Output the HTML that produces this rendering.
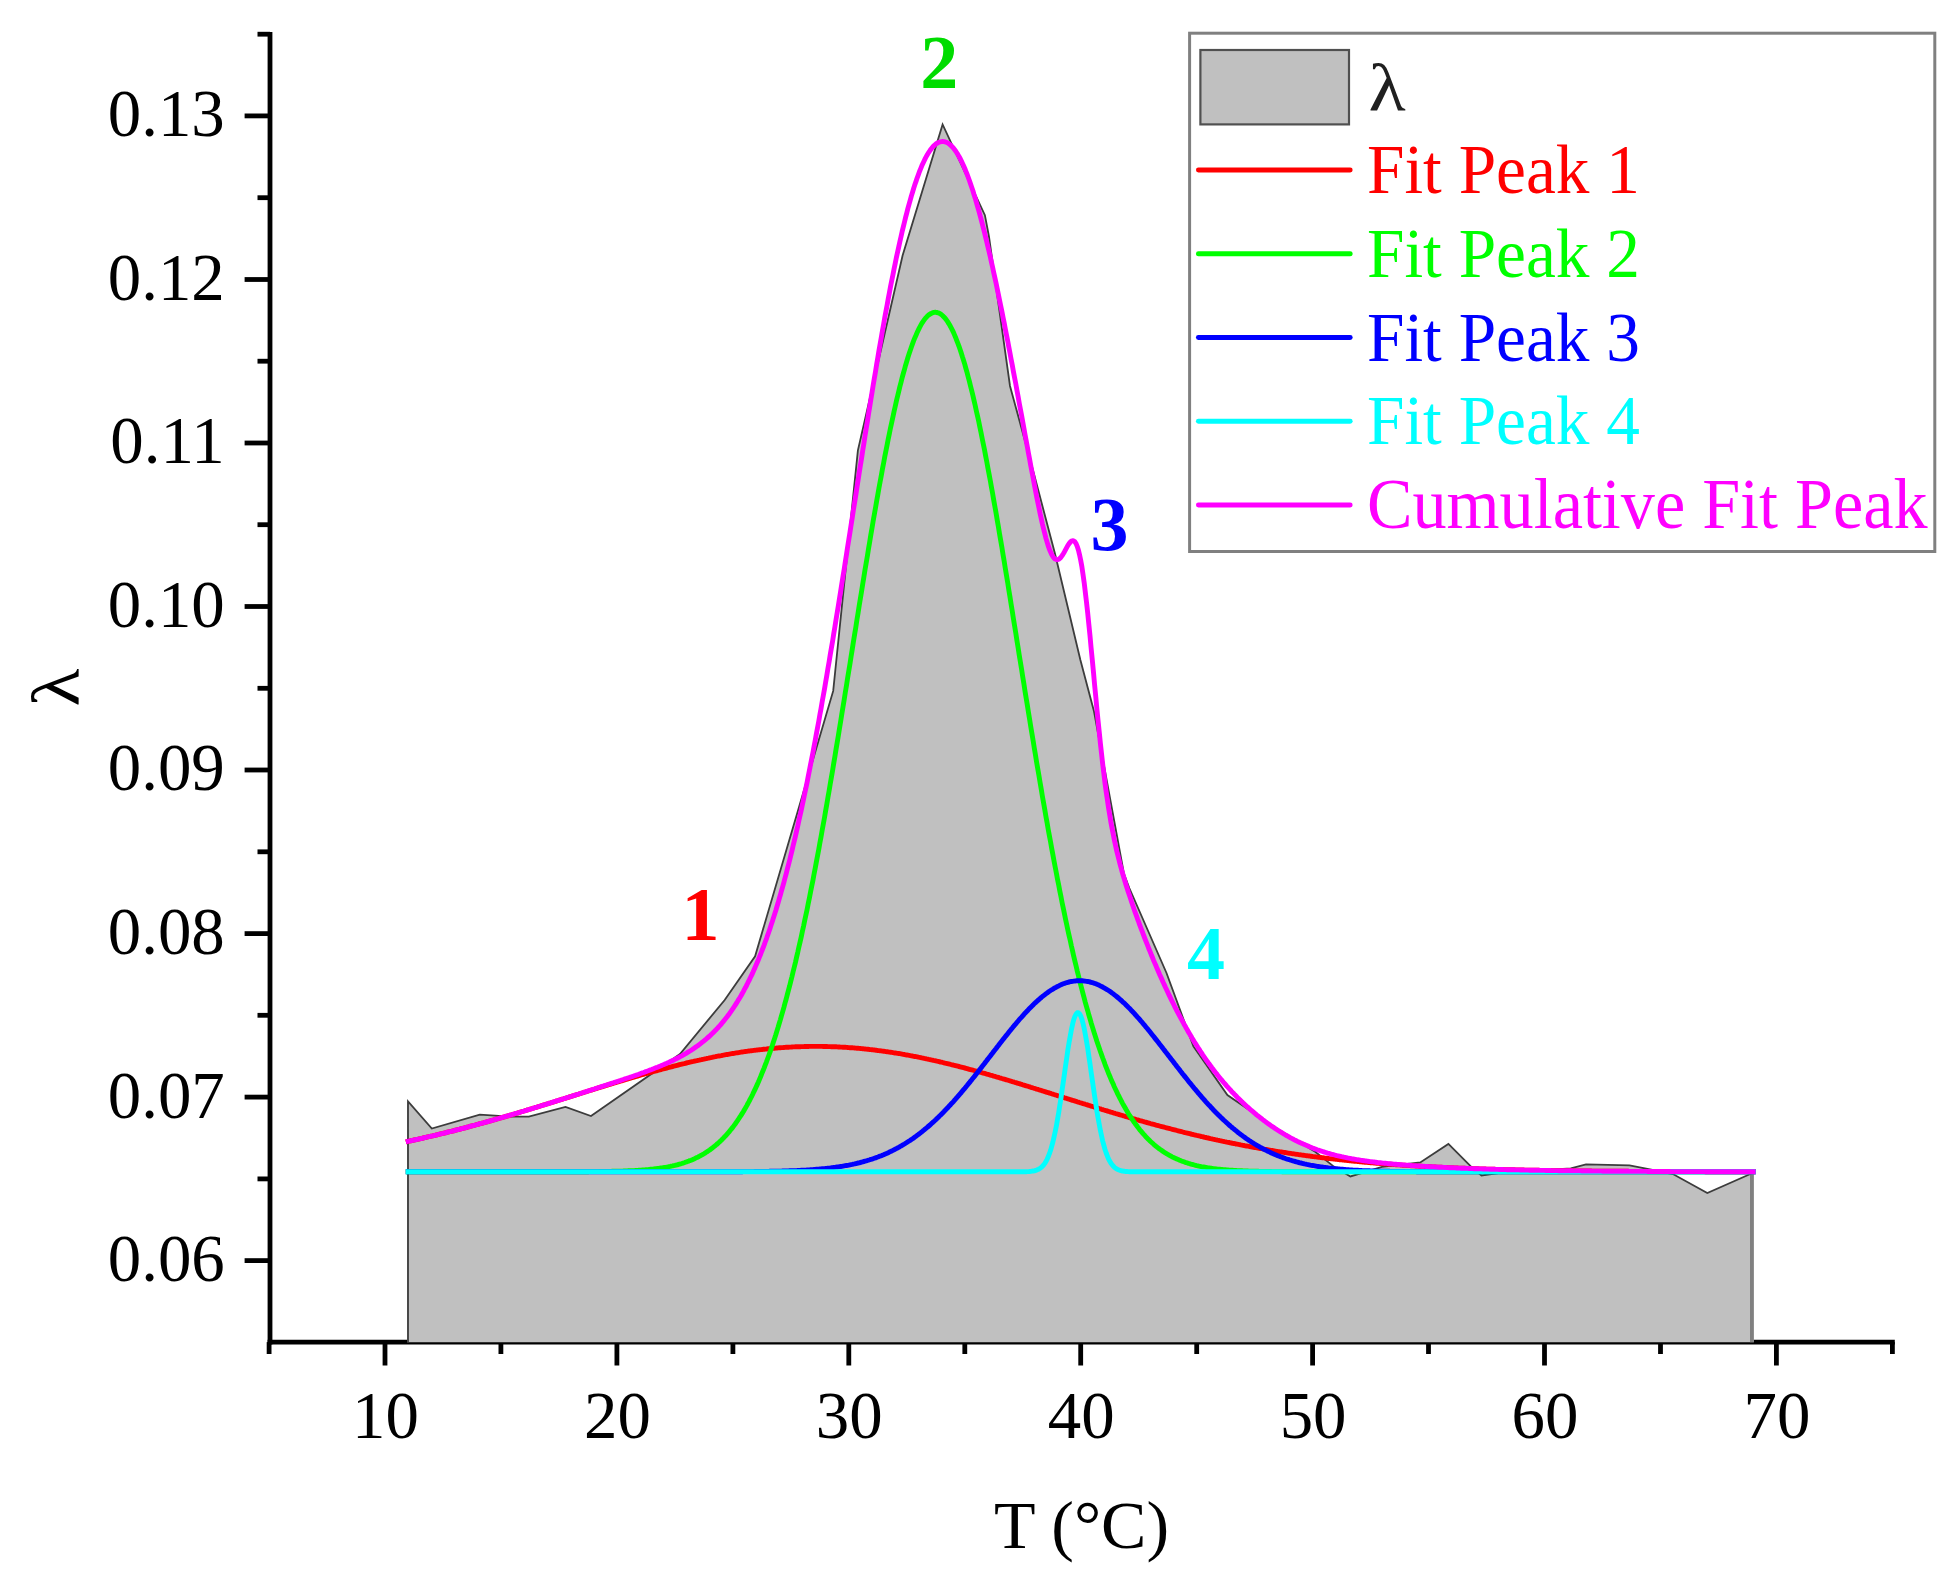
<!DOCTYPE html><html><head><meta charset="utf-8"><title>Fit Peaks</title>
<style>html,body{margin:0;padding:0;background:#fff}svg{display:block}text{font-family:"Liberation Serif","DejaVu Serif",serif}</style></head><body>
<svg width="1960" height="1580" viewBox="0 0 1960 1580">
<rect width="1960" height="1580" fill="#fff"/>
<g stroke="#000" stroke-width="4.8" fill="none"><line x1="270.0" y1="32.0" x2="270.0" y2="1344.5"/><line x1="267.6" y1="1342.1" x2="1894.8" y2="1342.1"/><line x1="244.6" y1="1260.6" x2="270.0" y2="1260.6"/><line x1="257.5" y1="1178.9" x2="270.0" y2="1178.9"/><line x1="244.6" y1="1097.1" x2="270.0" y2="1097.1"/><line x1="257.5" y1="1015.3" x2="270.0" y2="1015.3"/><line x1="244.6" y1="933.6" x2="270.0" y2="933.6"/><line x1="257.5" y1="851.8" x2="270.0" y2="851.8"/><line x1="244.6" y1="770.0" x2="270.0" y2="770.0"/><line x1="257.5" y1="688.3" x2="270.0" y2="688.3"/><line x1="244.6" y1="606.5" x2="270.0" y2="606.5"/><line x1="257.5" y1="524.7" x2="270.0" y2="524.7"/><line x1="244.6" y1="443.0" x2="270.0" y2="443.0"/><line x1="257.5" y1="361.2" x2="270.0" y2="361.2"/><line x1="244.6" y1="279.5" x2="270.0" y2="279.5"/><line x1="257.5" y1="197.7" x2="270.0" y2="197.7"/><line x1="244.6" y1="115.9" x2="270.0" y2="115.9"/><line x1="257.5" y1="34.2" x2="270.0" y2="34.2"/><line x1="269.1" y1="1342.1" x2="269.1" y2="1354.0"/><line x1="385.0" y1="1342.1" x2="385.0" y2="1365.5"/><line x1="500.9" y1="1342.1" x2="500.9" y2="1354.0"/><line x1="616.9" y1="1342.1" x2="616.9" y2="1365.5"/><line x1="732.9" y1="1342.1" x2="732.9" y2="1354.0"/><line x1="848.8" y1="1342.1" x2="848.8" y2="1365.5"/><line x1="964.8" y1="1342.1" x2="964.8" y2="1354.0"/><line x1="1080.7" y1="1342.1" x2="1080.7" y2="1365.5"/><line x1="1196.7" y1="1342.1" x2="1196.7" y2="1354.0"/><line x1="1312.6" y1="1342.1" x2="1312.6" y2="1365.5"/><line x1="1428.5" y1="1342.1" x2="1428.5" y2="1354.0"/><line x1="1544.5" y1="1342.1" x2="1544.5" y2="1365.5"/><line x1="1660.5" y1="1342.1" x2="1660.5" y2="1354.0"/><line x1="1776.4" y1="1342.1" x2="1776.4" y2="1365.5"/><line x1="1892.4" y1="1342.1" x2="1892.4" y2="1354.0"/></g>
<path d="M407.0,1342.2 L407.0,1101.4 L431.8,1128.6 L479.8,1114.7 L495.0,1115.7 L512.4,1116.7 L528.8,1116.7 L565.5,1107.0 L591.0,1116.0 L680.0,1054.0 L724.7,1000.0 L755.1,956.3 L833.2,690.9 L857.9,450.3 L902.6,255.5 L942.6,124.4 L984.9,215.2 L989.0,236.6 L1010.0,386.0 L1034.0,474.0 L1055.0,553.7 L1080.4,660.0 L1093.9,710.9 L1124.0,873.8 L1129.3,888.0 L1166.5,973.0 L1193.4,1046.3 L1227.4,1095.0 L1270.0,1124.2 L1315.5,1152.0 L1333.9,1166.6 L1350.4,1176.4 L1382.0,1166.8 L1420.3,1162.5 L1448.4,1143.9 L1471.3,1166.8 L1481.5,1175.5 L1502.0,1172.7 L1570.8,1168.4 L1586.0,1164.3 L1629.5,1165.3 L1650.0,1169.4 L1672.9,1174.0 L1707.3,1193.1 L1753.8,1172.7 L1753.8,1342.2 Z" fill="#c0c0c0" stroke="none"/>
<line x1="1751.9" y1="1173" x2="1751.9" y2="1342.2" stroke="#808080" stroke-width="3.8"/>
<path d="M408.0,1342.2 L408.0,1101.4 L431.8,1128.6 L479.8,1114.7 L495.0,1115.7 L512.4,1116.7 L528.8,1116.7 L565.5,1107.0 L591.0,1116.0 L680.0,1054.0 L724.7,1000.0 L755.1,956.3 L833.2,690.9 L857.9,450.3 L902.6,255.5 L942.6,124.4 L984.9,215.2 L989.0,236.6 L1010.0,386.0 L1034.0,474.0 L1055.0,553.7 L1080.4,660.0 L1093.9,710.9 L1124.0,873.8 L1129.3,888.0 L1166.5,973.0 L1193.4,1046.3 L1227.4,1095.0 L1270.0,1124.2 L1315.5,1152.0 L1333.9,1166.6 L1350.4,1176.4 L1382.0,1166.8 L1420.3,1162.5 L1448.4,1143.9 L1471.3,1166.8 L1481.5,1175.5 L1502.0,1172.7 L1570.8,1168.4 L1586.0,1164.3 L1629.5,1165.3 L1650.0,1169.4 L1672.9,1174.0 L1707.3,1193.1 L1753.2,1172.7" fill="none" stroke="#3c3c3c" stroke-width="1.8" stroke-linejoin="miter"/>
<g fill="none" stroke-width="4.9" stroke-linejoin="round" stroke-linecap="square">
<path d="M408.2,1141.3 L409.3,1141.0 L410.5,1140.8 L411.7,1140.5 L412.8,1140.3 L414.0,1140.0 L415.1,1139.8 L416.3,1139.5 L417.5,1139.3 L418.6,1139.0 L419.8,1138.8 L420.9,1138.5 L422.1,1138.3 L423.3,1138.0 L424.4,1137.7 L425.6,1137.5 L426.7,1137.2 L427.9,1136.9 L429.1,1136.7 L430.2,1136.4 L431.4,1136.1 L432.5,1135.9 L433.7,1135.6 L434.9,1135.3 L436.0,1135.0 L437.2,1134.8 L438.3,1134.5 L439.5,1134.2 L440.7,1133.9 L441.8,1133.6 L443.0,1133.4 L444.1,1133.1 L445.3,1132.8 L446.5,1132.5 L447.6,1132.2 L448.8,1131.9 L449.9,1131.6 L451.1,1131.4 L452.3,1131.1 L453.4,1130.8 L454.6,1130.5 L455.7,1130.2 L456.9,1129.9 L458.0,1129.6 L459.2,1129.3 L460.4,1129.0 L461.5,1128.7 L462.7,1128.4 L463.8,1128.1 L465.0,1127.8 L466.2,1127.5 L467.3,1127.2 L468.5,1126.9 L469.6,1126.5 L470.8,1126.2 L472.0,1125.9 L473.1,1125.6 L474.3,1125.3 L475.4,1125.0 L476.6,1124.7 L477.8,1124.4 L478.9,1124.0 L480.1,1123.7 L481.2,1123.4 L482.4,1123.1 L483.6,1122.8 L484.7,1122.4 L485.9,1122.1 L487.0,1121.8 L488.2,1121.5 L489.4,1121.1 L490.5,1120.8 L491.7,1120.5 L492.8,1120.2 L494.0,1119.8 L495.2,1119.5 L496.3,1119.2 L497.5,1118.8 L498.6,1118.5 L499.8,1118.2 L500.9,1117.8 L502.1,1117.5 L503.3,1117.2 L504.4,1116.8 L505.6,1116.5 L506.7,1116.1 L507.9,1115.8 L509.1,1115.5 L510.2,1115.1 L511.4,1114.8 L512.5,1114.4 L513.7,1114.1 L514.9,1113.8 L516.0,1113.4 L517.2,1113.1 L518.3,1112.7 L519.5,1112.4 L520.7,1112.0 L521.8,1111.7 L523.0,1111.3 L524.1,1111.0 L525.3,1110.6 L526.5,1110.3 L527.6,1109.9 L528.8,1109.6 L529.9,1109.2 L531.1,1108.9 L532.3,1108.5 L533.4,1108.2 L534.6,1107.8 L535.7,1107.4 L536.9,1107.1 L538.1,1106.7 L539.2,1106.4 L540.4,1106.0 L541.5,1105.7 L542.7,1105.3 L543.9,1104.9 L545.0,1104.6 L546.2,1104.2 L547.3,1103.9 L548.5,1103.5 L549.6,1103.1 L550.8,1102.8 L552.0,1102.4 L553.1,1102.1 L554.3,1101.7 L555.4,1101.3 L556.6,1101.0 L557.8,1100.6 L558.9,1100.2 L560.1,1099.9 L561.2,1099.5 L562.4,1099.2 L563.6,1098.8 L564.7,1098.4 L565.9,1098.1 L567.0,1097.7 L568.2,1097.3 L569.4,1097.0 L570.5,1096.6 L571.7,1096.3 L572.8,1095.9 L574.0,1095.5 L575.2,1095.2 L576.3,1094.8 L577.5,1094.4 L578.6,1094.1 L579.8,1093.7 L581.0,1093.3 L582.1,1093.0 L583.3,1092.6 L584.4,1092.2 L585.6,1091.9 L586.8,1091.5 L587.9,1091.2 L589.1,1090.8 L590.2,1090.4 L591.4,1090.1 L592.6,1089.7 L593.7,1089.4 L594.9,1089.0 L596.0,1088.6 L597.2,1088.3 L598.3,1087.9 L599.5,1087.5 L600.7,1087.2 L601.8,1086.8 L603.0,1086.5 L604.1,1086.1 L605.3,1085.8 L606.5,1085.4 L607.6,1085.0 L608.8,1084.7 L609.9,1084.3 L611.1,1084.0 L612.3,1083.6 L613.4,1083.3 L614.6,1082.9 L615.7,1082.6 L616.9,1082.2 L618.1,1081.9 L619.2,1081.5 L620.4,1081.2 L621.5,1080.8 L622.7,1080.5 L623.9,1080.1 L625.0,1079.8 L626.2,1079.4 L627.3,1079.1 L628.5,1078.7 L629.7,1078.4 L630.8,1078.0 L632.0,1077.7 L633.1,1077.4 L634.3,1077.0 L635.5,1076.7 L636.6,1076.3 L637.8,1076.0 L638.9,1075.7 L640.1,1075.3 L641.2,1075.0 L642.4,1074.7 L643.6,1074.3 L644.7,1074.0 L645.9,1073.7 L647.0,1073.4 L648.2,1073.0 L649.4,1072.7 L650.5,1072.4 L651.7,1072.1 L652.8,1071.7 L654.0,1071.4 L655.2,1071.1 L656.3,1070.8 L657.5,1070.5 L658.6,1070.1 L659.8,1069.8 L661.0,1069.5 L662.1,1069.2 L663.3,1068.9 L664.4,1068.6 L665.6,1068.3 L666.8,1068.0 L667.9,1067.7 L669.1,1067.4 L670.2,1067.1 L671.4,1066.8 L672.6,1066.5 L673.7,1066.2 L674.9,1065.9 L676.0,1065.6 L677.2,1065.3 L678.4,1065.0 L679.5,1064.7 L680.7,1064.4 L681.8,1064.1 L683.0,1063.8 L684.2,1063.6 L685.3,1063.3 L686.5,1063.0 L687.6,1062.7 L688.8,1062.5 L689.9,1062.2 L691.1,1061.9 L692.3,1061.6 L693.4,1061.4 L694.6,1061.1 L695.7,1060.8 L696.9,1060.6 L698.1,1060.3 L699.2,1060.1 L700.4,1059.8 L701.5,1059.6 L702.7,1059.3 L703.9,1059.1 L705.0,1058.8 L706.2,1058.6 L707.3,1058.3 L708.5,1058.1 L709.7,1057.8 L710.8,1057.6 L712.0,1057.4 L713.1,1057.1 L714.3,1056.9 L715.5,1056.7 L716.6,1056.4 L717.8,1056.2 L718.9,1056.0 L720.1,1055.8 L721.3,1055.6 L722.4,1055.3 L723.6,1055.1 L724.7,1054.9 L725.9,1054.7 L727.1,1054.5 L728.2,1054.3 L729.4,1054.1 L730.5,1053.9 L731.7,1053.7 L732.9,1053.5 L734.0,1053.3 L735.2,1053.1 L736.3,1052.9 L737.5,1052.8 L738.6,1052.6 L739.8,1052.4 L741.0,1052.2 L742.1,1052.0 L743.3,1051.9 L744.4,1051.7 L745.6,1051.5 L746.8,1051.4 L747.9,1051.2 L749.1,1051.0 L750.2,1050.9 L751.4,1050.7 L752.6,1050.6 L753.7,1050.4 L754.9,1050.3 L756.0,1050.1 L757.2,1050.0 L758.4,1049.9 L759.5,1049.7 L760.7,1049.6 L761.8,1049.5 L763.0,1049.3 L764.2,1049.2 L765.3,1049.1 L766.5,1049.0 L767.6,1048.8 L768.8,1048.7 L770.0,1048.6 L771.1,1048.5 L772.3,1048.4 L773.4,1048.3 L774.6,1048.2 L775.8,1048.1 L776.9,1048.0 L778.1,1047.9 L779.2,1047.8 L780.4,1047.7 L781.5,1047.6 L782.7,1047.6 L783.9,1047.5 L785.0,1047.4 L786.2,1047.3 L787.3,1047.3 L788.5,1047.2 L789.7,1047.1 L790.8,1047.1 L792.0,1047.0 L793.1,1046.9 L794.3,1046.9 L795.5,1046.8 L796.6,1046.8 L797.8,1046.7 L798.9,1046.7 L800.1,1046.7 L801.3,1046.6 L802.4,1046.6 L803.6,1046.6 L804.7,1046.5 L805.9,1046.5 L807.1,1046.5 L808.2,1046.5 L809.4,1046.4 L810.5,1046.4 L811.7,1046.4 L812.9,1046.4 L814.0,1046.4 L815.2,1046.4 L816.3,1046.4 L817.5,1046.4 L818.7,1046.4 L819.8,1046.4 L821.0,1046.4 L822.1,1046.4 L823.3,1046.5 L824.5,1046.5 L825.6,1046.5 L826.8,1046.5 L827.9,1046.6 L829.1,1046.6 L830.2,1046.6 L831.4,1046.7 L832.6,1046.7 L833.7,1046.7 L834.9,1046.8 L836.0,1046.8 L837.2,1046.9 L838.4,1047.0 L839.5,1047.0 L840.7,1047.1 L841.8,1047.1 L843.0,1047.2 L844.2,1047.3 L845.3,1047.3 L846.5,1047.4 L847.6,1047.5 L848.8,1047.6 L850.0,1047.7 L851.1,1047.7 L852.3,1047.8 L853.4,1047.9 L854.6,1048.0 L855.8,1048.1 L856.9,1048.2 L858.1,1048.3 L859.2,1048.4 L860.4,1048.5 L861.6,1048.6 L862.7,1048.7 L863.9,1048.9 L865.0,1049.0 L866.2,1049.1 L867.4,1049.2 L868.5,1049.3 L869.7,1049.5 L870.8,1049.6 L872.0,1049.7 L873.1,1049.9 L874.3,1050.0 L875.5,1050.2 L876.6,1050.3 L877.8,1050.5 L878.9,1050.6 L880.1,1050.8 L881.3,1050.9 L882.4,1051.1 L883.6,1051.2 L884.7,1051.4 L885.9,1051.6 L887.1,1051.7 L888.2,1051.9 L889.4,1052.1 L890.5,1052.2 L891.7,1052.4 L892.9,1052.6 L894.0,1052.8 L895.2,1053.0 L896.3,1053.2 L897.5,1053.4 L898.7,1053.5 L899.8,1053.7 L901.0,1053.9 L902.1,1054.1 L903.3,1054.3 L904.5,1054.5 L905.6,1054.8 L906.8,1055.0 L907.9,1055.2 L909.1,1055.4 L910.3,1055.6 L911.4,1055.8 L912.6,1056.0 L913.7,1056.3 L914.9,1056.5 L916.1,1056.7 L917.2,1056.9 L918.4,1057.2 L919.5,1057.4 L920.7,1057.6 L921.8,1057.9 L923.0,1058.1 L924.2,1058.4 L925.3,1058.6 L926.5,1058.9 L927.6,1059.1 L928.8,1059.4 L930.0,1059.6 L931.1,1059.9 L932.3,1060.1 L933.4,1060.4 L934.6,1060.6 L935.8,1060.9 L936.9,1061.2 L938.1,1061.4 L939.2,1061.7 L940.4,1062.0 L941.6,1062.2 L942.7,1062.5 L943.9,1062.8 L945.0,1063.1 L946.2,1063.3 L947.4,1063.6 L948.5,1063.9 L949.7,1064.2 L950.8,1064.5 L952.0,1064.8 L953.2,1065.0 L954.3,1065.3 L955.5,1065.6 L956.6,1065.9 L957.8,1066.2 L959.0,1066.5 L960.1,1066.8 L961.3,1067.1 L962.4,1067.4 L963.6,1067.7 L964.8,1068.0 L965.9,1068.3 L967.1,1068.6 L968.2,1069.0 L969.4,1069.3 L970.5,1069.6 L971.7,1069.9 L972.9,1070.2 L974.0,1070.5 L975.2,1070.8 L976.3,1071.2 L977.5,1071.5 L978.7,1071.8 L979.8,1072.1 L981.0,1072.4 L982.1,1072.8 L983.3,1073.1 L984.5,1073.4 L985.6,1073.7 L986.8,1074.1 L987.9,1074.4 L989.1,1074.7 L990.3,1075.1 L991.4,1075.4 L992.6,1075.7 L993.7,1076.1 L994.9,1076.4 L996.1,1076.8 L997.2,1077.1 L998.4,1077.4 L999.5,1077.8 L1000.7,1078.1 L1001.9,1078.5 L1003.0,1078.8 L1004.2,1079.1 L1005.3,1079.5 L1006.5,1079.8 L1007.7,1080.2 L1008.8,1080.5 L1010.0,1080.9 L1011.1,1081.2 L1012.3,1081.6 L1013.4,1081.9 L1014.6,1082.3 L1015.8,1082.6 L1016.9,1083.0 L1018.1,1083.3 L1019.2,1083.7 L1020.4,1084.0 L1021.6,1084.4 L1022.7,1084.8 L1023.9,1085.1 L1025.0,1085.5 L1026.2,1085.8 L1027.4,1086.2 L1028.5,1086.5 L1029.7,1086.9 L1030.8,1087.3 L1032.0,1087.6 L1033.2,1088.0 L1034.3,1088.3 L1035.5,1088.7 L1036.6,1089.1 L1037.8,1089.4 L1039.0,1089.8 L1040.1,1090.1 L1041.3,1090.5 L1042.4,1090.9 L1043.6,1091.2 L1044.8,1091.6 L1045.9,1092.0 L1047.1,1092.3 L1048.2,1092.7 L1049.4,1093.0 L1050.6,1093.4 L1051.7,1093.8 L1052.9,1094.1 L1054.0,1094.5 L1055.2,1094.9 L1056.4,1095.2 L1057.5,1095.6 L1058.7,1096.0 L1059.8,1096.3 L1061.0,1096.7 L1062.1,1097.1 L1063.3,1097.4 L1064.5,1097.8 L1065.6,1098.1 L1066.8,1098.5 L1067.9,1098.9 L1069.1,1099.2 L1070.3,1099.6 L1071.4,1100.0 L1072.6,1100.3 L1073.7,1100.7 L1074.9,1101.0 L1076.1,1101.4 L1077.2,1101.8 L1078.4,1102.1 L1079.5,1102.5 L1080.7,1102.9 L1081.9,1103.2 L1083.0,1103.6 L1084.2,1103.9 L1085.3,1104.3 L1086.5,1104.7 L1087.7,1105.0 L1088.8,1105.4 L1090.0,1105.7 L1091.1,1106.1 L1092.3,1106.4 L1093.5,1106.8 L1094.6,1107.2 L1095.8,1107.5 L1096.9,1107.9 L1098.1,1108.2 L1099.3,1108.6 L1100.4,1108.9 L1101.6,1109.3 L1102.7,1109.6 L1103.9,1110.0 L1105.0,1110.3 L1106.2,1110.7 L1107.4,1111.0 L1108.5,1111.4 L1109.7,1111.7 L1110.8,1112.1 L1112.0,1112.4 L1113.2,1112.8 L1114.3,1113.1 L1115.5,1113.5 L1116.6,1113.8 L1117.8,1114.2 L1119.0,1114.5 L1120.1,1114.9 L1121.3,1115.2 L1122.4,1115.5 L1123.6,1115.9 L1124.8,1116.2 L1125.9,1116.6 L1127.1,1116.9 L1128.2,1117.2 L1129.4,1117.6 L1130.6,1117.9 L1131.7,1118.2 L1132.9,1118.6 L1134.0,1118.9 L1135.2,1119.2 L1136.4,1119.6 L1137.5,1119.9 L1138.7,1120.2 L1139.8,1120.6 L1141.0,1120.9 L1142.2,1121.2 L1143.3,1121.5 L1144.5,1121.9 L1145.6,1122.2 L1146.8,1122.5 L1148.0,1122.8 L1149.1,1123.1 L1150.3,1123.5 L1151.4,1123.8 L1152.6,1124.1 L1153.7,1124.4 L1154.9,1124.7 L1156.1,1125.1 L1157.2,1125.4 L1158.4,1125.7 L1159.5,1126.0 L1160.7,1126.3 L1161.9,1126.6 L1163.0,1126.9 L1164.2,1127.2 L1165.3,1127.5 L1166.5,1127.8 L1167.7,1128.1 L1168.8,1128.4 L1170.0,1128.7 L1171.1,1129.0 L1172.3,1129.3 L1173.5,1129.6 L1174.6,1129.9 L1175.8,1130.2 L1176.9,1130.5 L1178.1,1130.8 L1179.3,1131.1 L1180.4,1131.4 L1181.6,1131.7 L1182.7,1132.0 L1183.9,1132.3 L1185.1,1132.6 L1186.2,1132.8 L1187.4,1133.1 L1188.5,1133.4 L1189.7,1133.7 L1190.9,1134.0 L1192.0,1134.3 L1193.2,1134.5 L1194.3,1134.8 L1195.5,1135.1 L1196.7,1135.4 L1197.8,1135.6 L1199.0,1135.9 L1200.1,1136.2 L1201.3,1136.5 L1202.4,1136.7 L1203.6,1137.0 L1204.8,1137.3 L1205.9,1137.5 L1207.1,1137.8 L1208.2,1138.0 L1209.4,1138.3 L1210.6,1138.6 L1211.7,1138.8 L1212.9,1139.1 L1214.0,1139.3 L1215.2,1139.6 L1216.4,1139.8 L1217.5,1140.1 L1218.7,1140.3 L1219.8,1140.6 L1221.0,1140.8 L1222.2,1141.1 L1223.3,1141.3 L1224.5,1141.6 L1225.6,1141.8 L1226.8,1142.1 L1228.0,1142.3 L1229.1,1142.5 L1230.3,1142.8 L1231.4,1143.0 L1232.6,1143.3 L1233.8,1143.5 L1234.9,1143.7 L1236.1,1144.0 L1237.2,1144.2 L1238.4,1144.4 L1239.6,1144.6 L1240.7,1144.9 L1241.9,1145.1 L1243.0,1145.3 L1244.2,1145.5 L1245.3,1145.8 L1246.5,1146.0 L1247.7,1146.2 L1248.8,1146.4 L1250.0,1146.6 L1251.1,1146.9 L1252.3,1147.1 L1253.5,1147.3 L1254.6,1147.5 L1255.8,1147.7 L1256.9,1147.9 L1258.1,1148.1 L1259.3,1148.3 L1260.4,1148.5 L1261.6,1148.7 L1262.7,1148.9 L1263.9,1149.1 L1265.1,1149.3 L1266.2,1149.5 L1267.4,1149.7 L1268.5,1149.9 L1269.7,1150.1 L1270.9,1150.3 L1272.0,1150.5 L1273.2,1150.7 L1274.3,1150.9 L1275.5,1151.1 L1276.7,1151.3 L1277.8,1151.5 L1279.0,1151.6 L1280.1,1151.8 L1281.3,1152.0 L1282.5,1152.2 L1283.6,1152.4 L1284.8,1152.5 L1285.9,1152.7 L1287.1,1152.9 L1288.3,1153.1 L1289.4,1153.3 L1290.6,1153.4 L1291.7,1153.6 L1292.9,1153.8 L1294.0,1153.9 L1295.2,1154.1 L1296.4,1154.3 L1297.5,1154.4 L1298.7,1154.6 L1299.8,1154.8 L1301.0,1154.9 L1302.2,1155.1 L1303.3,1155.2 L1304.5,1155.4 L1305.6,1155.6 L1306.8,1155.7 L1308.0,1155.9 L1309.1,1156.0 L1310.3,1156.2 L1311.4,1156.3 L1312.6,1156.5 L1313.8,1156.6 L1314.9,1156.8 L1316.1,1156.9 L1317.2,1157.1 L1318.4,1157.2 L1319.6,1157.4 L1320.7,1157.5 L1321.9,1157.7 L1323.0,1157.8 L1324.2,1157.9 L1325.4,1158.1 L1326.5,1158.2 L1327.7,1158.3 L1328.8,1158.5 L1330.0,1158.6 L1331.2,1158.7 L1332.3,1158.9 L1333.5,1159.0 L1334.6,1159.1 L1335.8,1159.3 L1336.9,1159.4 L1338.1,1159.5 L1339.3,1159.7 L1340.4,1159.8 L1341.6,1159.9 L1342.7,1160.0 L1343.9,1160.1 L1345.1,1160.3 L1346.2,1160.4 L1347.4,1160.5 L1348.5,1160.6 L1349.7,1160.7 L1350.9,1160.9 L1352.0,1161.0 L1353.2,1161.1 L1354.3,1161.2 L1355.5,1161.3 L1356.7,1161.4 L1357.8,1161.5 L1359.0,1161.6 L1360.1,1161.8 L1361.3,1161.9 L1362.5,1162.0 L1363.6,1162.1 L1364.8,1162.2 L1365.9,1162.3 L1367.1,1162.4 L1368.3,1162.5 L1369.4,1162.6 L1370.6,1162.7 L1371.7,1162.8 L1372.9,1162.9 L1374.1,1163.0 L1375.2,1163.1 L1376.4,1163.2 L1377.5,1163.3 L1378.7,1163.4 L1379.9,1163.5 L1381.0,1163.6 L1382.2,1163.6 L1383.3,1163.7 L1384.5,1163.8 L1385.6,1163.9 L1386.8,1164.0 L1388.0,1164.1 L1389.1,1164.2 L1390.3,1164.3 L1391.4,1164.3 L1392.6,1164.4 L1393.8,1164.5 L1394.9,1164.6 L1396.1,1164.7 L1397.2,1164.8 L1398.4,1164.8 L1399.6,1164.9 L1400.7,1165.0 L1401.9,1165.1 L1403.0,1165.2 L1404.2,1165.2 L1405.4,1165.3 L1406.5,1165.4 L1407.7,1165.5 L1408.8,1165.5 L1410.0,1165.6 L1411.2,1165.7 L1412.3,1165.7 L1413.5,1165.8 L1414.6,1165.9 L1415.8,1166.0 L1417.0,1166.0 L1418.1,1166.1 L1419.3,1166.2 L1420.4,1166.2 L1421.6,1166.3 L1422.8,1166.4 L1423.9,1166.4 L1425.1,1166.5 L1426.2,1166.6 L1427.4,1166.6 L1428.5,1166.7 L1429.7,1166.7 L1430.9,1166.8 L1432.0,1166.9 L1433.2,1166.9 L1434.3,1167.0 L1435.5,1167.0 L1436.7,1167.1 L1437.8,1167.2 L1439.0,1167.2 L1440.1,1167.3 L1441.3,1167.3 L1442.5,1167.4 L1443.6,1167.4 L1444.8,1167.5 L1445.9,1167.5 L1447.1,1167.6 L1448.3,1167.6 L1449.4,1167.7 L1450.6,1167.7 L1451.7,1167.8 L1452.9,1167.8 L1454.1,1167.9 L1455.2,1167.9 L1456.4,1168.0 L1457.5,1168.0 L1458.7,1168.1 L1459.9,1168.1 L1461.0,1168.2 L1462.2,1168.2 L1463.3,1168.3 L1464.5,1168.3 L1465.7,1168.4 L1466.8,1168.4 L1468.0,1168.5 L1469.1,1168.5 L1470.3,1168.5 L1471.5,1168.6 L1472.6,1168.6 L1473.8,1168.7 L1474.9,1168.7 L1476.1,1168.7 L1477.2,1168.8 L1478.4,1168.8 L1479.6,1168.9 L1480.7,1168.9 L1481.9,1168.9 L1483.0,1169.0 L1484.2,1169.0 L1485.4,1169.0 L1486.5,1169.1 L1487.7,1169.1 L1488.8,1169.2 L1490.0,1169.2 L1491.2,1169.2 L1492.3,1169.3 L1493.5,1169.3 L1494.6,1169.3 L1495.8,1169.4 L1497.0,1169.4 L1498.1,1169.4 L1499.3,1169.5 L1500.4,1169.5 L1501.6,1169.5 L1502.8,1169.5 L1503.9,1169.6 L1505.1,1169.6 L1506.2,1169.6 L1507.4,1169.7 L1508.6,1169.7 L1509.7,1169.7 L1510.9,1169.8 L1512.0,1169.8 L1513.2,1169.8 L1514.4,1169.8 L1515.5,1169.9 L1516.7,1169.9 L1517.8,1169.9 L1519.0,1169.9 L1520.2,1170.0 L1521.3,1170.0 L1522.5,1170.0 L1523.6,1170.0 L1524.8,1170.1 L1525.9,1170.1 L1527.1,1170.1 L1528.3,1170.1 L1529.4,1170.2 L1530.6,1170.2 L1531.7,1170.2 L1532.9,1170.2 L1534.1,1170.3 L1535.2,1170.3 L1536.4,1170.3 L1537.5,1170.3 L1538.7,1170.3 L1539.9,1170.4 L1541.0,1170.4 L1542.2,1170.4 L1543.3,1170.4 L1544.5,1170.4 L1545.7,1170.5 L1546.8,1170.5 L1548.0,1170.5 L1549.1,1170.5 L1550.3,1170.5 L1551.5,1170.6 L1552.6,1170.6 L1553.8,1170.6 L1554.9,1170.6 L1556.1,1170.6 L1557.3,1170.6 L1558.4,1170.7 L1559.6,1170.7 L1560.7,1170.7 L1561.9,1170.7 L1563.1,1170.7 L1564.2,1170.7 L1565.4,1170.8 L1566.5,1170.8 L1567.7,1170.8 L1568.8,1170.8 L1570.0,1170.8 L1571.2,1170.8 L1572.3,1170.8 L1573.5,1170.9 L1574.6,1170.9 L1575.8,1170.9 L1577.0,1170.9 L1578.1,1170.9 L1579.3,1170.9 L1580.4,1170.9 L1581.6,1171.0 L1582.8,1171.0 L1583.9,1171.0 L1585.1,1171.0 L1586.2,1171.0 L1587.4,1171.0 L1588.6,1171.0 L1589.7,1171.0 L1590.9,1171.0 L1592.0,1171.1 L1593.2,1171.1 L1594.4,1171.1 L1595.5,1171.1 L1596.7,1171.1 L1597.8,1171.1 L1599.0,1171.1 L1600.2,1171.1 L1601.3,1171.1 L1602.5,1171.2 L1603.6,1171.2 L1604.8,1171.2 L1606.0,1171.2 L1607.1,1171.2 L1608.3,1171.2 L1609.4,1171.2 L1610.6,1171.2 L1611.8,1171.2 L1612.9,1171.2 L1614.1,1171.2 L1615.2,1171.3 L1616.4,1171.3 L1617.5,1171.3 L1618.7,1171.3 L1619.9,1171.3 L1621.0,1171.3 L1622.2,1171.3 L1623.3,1171.3 L1624.5,1171.3 L1625.7,1171.3 L1626.8,1171.3 L1628.0,1171.3 L1629.1,1171.4 L1630.3,1171.4 L1631.5,1171.4 L1632.6,1171.4 L1633.8,1171.4 L1634.9,1171.4 L1636.1,1171.4 L1637.3,1171.4 L1638.4,1171.4 L1639.6,1171.4 L1640.7,1171.4 L1641.9,1171.4 L1643.1,1171.4 L1644.2,1171.4 L1645.4,1171.4 L1646.5,1171.4 L1647.7,1171.5 L1648.9,1171.5 L1650.0,1171.5 L1651.2,1171.5 L1652.3,1171.5 L1653.5,1171.5 L1654.7,1171.5 L1655.8,1171.5 L1657.0,1171.5 L1658.1,1171.5 L1659.3,1171.5 L1660.5,1171.5 L1661.6,1171.5 L1662.8,1171.5 L1663.9,1171.5 L1665.1,1171.5 L1666.2,1171.5 L1667.4,1171.5 L1668.6,1171.5 L1669.7,1171.5 L1670.9,1171.6 L1672.0,1171.6 L1673.2,1171.6 L1674.4,1171.6 L1675.5,1171.6 L1676.7,1171.6 L1677.8,1171.6 L1679.0,1171.6 L1680.2,1171.6 L1681.3,1171.6 L1682.5,1171.6 L1683.6,1171.6 L1684.8,1171.6 L1686.0,1171.6 L1687.1,1171.6 L1688.3,1171.6 L1689.4,1171.6 L1690.6,1171.6 L1691.8,1171.6 L1692.9,1171.6 L1694.1,1171.6 L1695.2,1171.6 L1696.4,1171.6 L1697.6,1171.6 L1698.7,1171.6 L1699.9,1171.6 L1701.0,1171.6 L1702.2,1171.6 L1703.4,1171.6 L1704.5,1171.6 L1705.7,1171.7 L1706.8,1171.7 L1708.0,1171.7 L1709.1,1171.7 L1710.3,1171.7 L1711.5,1171.7 L1712.6,1171.7 L1713.8,1171.7 L1714.9,1171.7 L1716.1,1171.7 L1717.3,1171.7 L1718.4,1171.7 L1719.6,1171.7 L1720.7,1171.7 L1721.9,1171.7 L1723.1,1171.7 L1724.2,1171.7 L1725.4,1171.7 L1726.5,1171.7 L1727.7,1171.7 L1728.9,1171.7 L1730.0,1171.7 L1731.2,1171.7 L1732.3,1171.7 L1733.5,1171.7 L1734.7,1171.7 L1735.8,1171.7 L1737.0,1171.7 L1738.1,1171.7 L1739.3,1171.7 L1740.5,1171.7 L1741.6,1171.7 L1742.8,1171.7 L1743.9,1171.7 L1745.1,1171.7 L1746.3,1171.7 L1747.4,1171.7 L1748.6,1171.7 L1749.7,1171.7 L1750.9,1171.7 L1752.1,1171.7 L1753.2,1171.7" stroke="#ff0000"/>
<path d="M408.2,1171.8 L409.3,1171.8 L410.5,1171.8 L411.7,1171.8 L412.8,1171.8 L414.0,1171.8 L415.1,1171.8 L416.3,1171.8 L417.5,1171.8 L418.6,1171.8 L419.8,1171.8 L420.9,1171.8 L422.1,1171.8 L423.3,1171.8 L424.4,1171.8 L425.6,1171.8 L426.7,1171.8 L427.9,1171.8 L429.1,1171.8 L430.2,1171.8 L431.4,1171.8 L432.5,1171.8 L433.7,1171.8 L434.9,1171.8 L436.0,1171.8 L437.2,1171.8 L438.3,1171.8 L439.5,1171.8 L440.7,1171.8 L441.8,1171.8 L443.0,1171.8 L444.1,1171.8 L445.3,1171.8 L446.5,1171.8 L447.6,1171.8 L448.8,1171.8 L449.9,1171.8 L451.1,1171.8 L452.3,1171.8 L453.4,1171.8 L454.6,1171.8 L455.7,1171.8 L456.9,1171.8 L458.0,1171.8 L459.2,1171.8 L460.4,1171.8 L461.5,1171.8 L462.7,1171.8 L463.8,1171.8 L465.0,1171.8 L466.2,1171.8 L467.3,1171.8 L468.5,1171.8 L469.6,1171.8 L470.8,1171.8 L472.0,1171.8 L473.1,1171.8 L474.3,1171.8 L475.4,1171.8 L476.6,1171.8 L477.8,1171.8 L478.9,1171.8 L480.1,1171.8 L481.2,1171.8 L482.4,1171.8 L483.6,1171.8 L484.7,1171.8 L485.9,1171.8 L487.0,1171.8 L488.2,1171.8 L489.4,1171.8 L490.5,1171.8 L491.7,1171.8 L492.8,1171.8 L494.0,1171.8 L495.2,1171.8 L496.3,1171.8 L497.5,1171.8 L498.6,1171.8 L499.8,1171.8 L500.9,1171.8 L502.1,1171.8 L503.3,1171.8 L504.4,1171.8 L505.6,1171.8 L506.7,1171.8 L507.9,1171.8 L509.1,1171.8 L510.2,1171.8 L511.4,1171.8 L512.5,1171.8 L513.7,1171.8 L514.9,1171.8 L516.0,1171.8 L517.2,1171.8 L518.3,1171.8 L519.5,1171.8 L520.7,1171.8 L521.8,1171.8 L523.0,1171.8 L524.1,1171.8 L525.3,1171.8 L526.5,1171.8 L527.6,1171.8 L528.8,1171.8 L529.9,1171.8 L531.1,1171.8 L532.3,1171.8 L533.4,1171.8 L534.6,1171.8 L535.7,1171.8 L536.9,1171.8 L538.1,1171.8 L539.2,1171.8 L540.4,1171.8 L541.5,1171.8 L542.7,1171.8 L543.9,1171.8 L545.0,1171.8 L546.2,1171.8 L547.3,1171.8 L548.5,1171.8 L549.6,1171.8 L550.8,1171.8 L552.0,1171.8 L553.1,1171.8 L554.3,1171.8 L555.4,1171.8 L556.6,1171.8 L557.8,1171.8 L558.9,1171.8 L560.1,1171.8 L561.2,1171.8 L562.4,1171.8 L563.6,1171.8 L564.7,1171.8 L565.9,1171.8 L567.0,1171.8 L568.2,1171.7 L569.4,1171.7 L570.5,1171.7 L571.7,1171.7 L572.8,1171.7 L574.0,1171.7 L575.2,1171.7 L576.3,1171.7 L577.5,1171.7 L578.6,1171.7 L579.8,1171.7 L581.0,1171.7 L582.1,1171.7 L583.3,1171.7 L584.4,1171.7 L585.6,1171.7 L586.8,1171.7 L587.9,1171.7 L589.1,1171.6 L590.2,1171.6 L591.4,1171.6 L592.6,1171.6 L593.7,1171.6 L594.9,1171.6 L596.0,1171.6 L597.2,1171.6 L598.3,1171.6 L599.5,1171.5 L600.7,1171.5 L601.8,1171.5 L603.0,1171.5 L604.1,1171.5 L605.3,1171.5 L606.5,1171.4 L607.6,1171.4 L608.8,1171.4 L609.9,1171.4 L611.1,1171.4 L612.3,1171.3 L613.4,1171.3 L614.6,1171.3 L615.7,1171.3 L616.9,1171.2 L618.1,1171.2 L619.2,1171.2 L620.4,1171.1 L621.5,1171.1 L622.7,1171.1 L623.9,1171.0 L625.0,1171.0 L626.2,1170.9 L627.3,1170.9 L628.5,1170.8 L629.7,1170.8 L630.8,1170.7 L632.0,1170.7 L633.1,1170.6 L634.3,1170.6 L635.5,1170.5 L636.6,1170.4 L637.8,1170.4 L638.9,1170.3 L640.1,1170.2 L641.2,1170.1 L642.4,1170.0 L643.6,1169.9 L644.7,1169.9 L645.9,1169.8 L647.0,1169.7 L648.2,1169.6 L649.4,1169.4 L650.5,1169.3 L651.7,1169.2 L652.8,1169.1 L654.0,1168.9 L655.2,1168.8 L656.3,1168.7 L657.5,1168.5 L658.6,1168.4 L659.8,1168.2 L661.0,1168.0 L662.1,1167.9 L663.3,1167.7 L664.4,1167.5 L665.6,1167.3 L666.8,1167.1 L667.9,1166.9 L669.1,1166.6 L670.2,1166.4 L671.4,1166.1 L672.6,1165.9 L673.7,1165.6 L674.9,1165.4 L676.0,1165.1 L677.2,1164.8 L678.4,1164.5 L679.5,1164.1 L680.7,1163.8 L681.8,1163.5 L683.0,1163.1 L684.2,1162.7 L685.3,1162.3 L686.5,1161.9 L687.6,1161.5 L688.8,1161.1 L689.9,1160.6 L691.1,1160.2 L692.3,1159.7 L693.4,1159.2 L694.6,1158.7 L695.7,1158.1 L696.9,1157.6 L698.1,1157.0 L699.2,1156.4 L700.4,1155.8 L701.5,1155.1 L702.7,1154.5 L703.9,1153.8 L705.0,1153.1 L706.2,1152.3 L707.3,1151.6 L708.5,1150.8 L709.7,1150.0 L710.8,1149.1 L712.0,1148.3 L713.1,1147.4 L714.3,1146.4 L715.5,1145.5 L716.6,1144.5 L717.8,1143.5 L718.9,1142.5 L720.1,1141.4 L721.3,1140.3 L722.4,1139.1 L723.6,1137.9 L724.7,1136.7 L725.9,1135.5 L727.1,1134.2 L728.2,1132.8 L729.4,1131.5 L730.5,1130.1 L731.7,1128.6 L732.9,1127.1 L734.0,1125.6 L735.2,1124.0 L736.3,1122.4 L737.5,1120.7 L738.6,1119.0 L739.8,1117.2 L741.0,1115.4 L742.1,1113.6 L743.3,1111.7 L744.4,1109.7 L745.6,1107.7 L746.8,1105.6 L747.9,1103.5 L749.1,1101.4 L750.2,1099.1 L751.4,1096.9 L752.6,1094.5 L753.7,1092.1 L754.9,1089.7 L756.0,1087.2 L757.2,1084.6 L758.4,1082.0 L759.5,1079.3 L760.7,1076.5 L761.8,1073.7 L763.0,1070.8 L764.2,1067.9 L765.3,1064.9 L766.5,1061.8 L767.6,1058.7 L768.8,1055.5 L770.0,1052.2 L771.1,1048.9 L772.3,1045.5 L773.4,1042.0 L774.6,1038.4 L775.8,1034.8 L776.9,1031.1 L778.1,1027.3 L779.2,1023.5 L780.4,1019.6 L781.5,1015.6 L782.7,1011.6 L783.9,1007.4 L785.0,1003.2 L786.2,999.0 L787.3,994.6 L788.5,990.2 L789.7,985.7 L790.8,981.1 L792.0,976.5 L793.1,971.8 L794.3,967.0 L795.5,962.1 L796.6,957.1 L797.8,952.1 L798.9,947.0 L800.1,941.9 L801.3,936.6 L802.4,931.3 L803.6,926.0 L804.7,920.5 L805.9,915.0 L807.1,909.4 L808.2,903.7 L809.4,898.0 L810.5,892.2 L811.7,886.3 L812.9,880.4 L814.0,874.4 L815.2,868.3 L816.3,862.2 L817.5,856.0 L818.7,849.7 L819.8,843.4 L821.0,837.0 L822.1,830.6 L823.3,824.1 L824.5,817.6 L825.6,811.0 L826.8,804.3 L827.9,797.6 L829.1,790.9 L830.2,784.1 L831.4,777.3 L832.6,770.4 L833.7,763.5 L834.9,756.5 L836.0,749.5 L837.2,742.5 L838.4,735.4 L839.5,728.3 L840.7,721.2 L841.8,714.1 L843.0,706.9 L844.2,699.7 L845.3,692.5 L846.5,685.3 L847.6,678.1 L848.8,670.8 L850.0,663.6 L851.1,656.3 L852.3,649.0 L853.4,641.8 L854.6,634.5 L855.8,627.3 L856.9,620.0 L858.1,612.8 L859.2,605.6 L860.4,598.4 L861.6,591.2 L862.7,584.1 L863.9,576.9 L865.0,569.9 L866.2,562.8 L867.4,555.8 L868.5,548.8 L869.7,541.8 L870.8,535.0 L872.0,528.1 L873.1,521.3 L874.3,514.6 L875.5,507.9 L876.6,501.3 L877.8,494.8 L878.9,488.3 L880.1,481.9 L881.3,475.5 L882.4,469.3 L883.6,463.1 L884.7,457.0 L885.9,451.0 L887.1,445.1 L888.2,439.3 L889.4,433.6 L890.5,427.9 L891.7,422.4 L892.9,417.0 L894.0,411.7 L895.2,406.5 L896.3,401.4 L897.5,396.5 L898.7,391.6 L899.8,386.9 L901.0,382.3 L902.1,377.9 L903.3,373.5 L904.5,369.3 L905.6,365.2 L906.8,361.3 L907.9,357.5 L909.1,353.8 L910.3,350.3 L911.4,347.0 L912.6,343.7 L913.7,340.7 L914.9,337.7 L916.1,335.0 L917.2,332.3 L918.4,329.9 L919.5,327.6 L920.7,325.4 L921.8,323.4 L923.0,321.6 L924.2,319.9 L925.3,318.4 L926.5,317.1 L927.6,315.9 L928.8,314.9 L930.0,314.1 L931.1,313.4 L932.3,312.9 L933.4,312.5 L934.6,312.3 L935.8,312.3 L936.9,312.5 L938.1,312.8 L939.2,313.3 L940.4,313.9 L941.6,314.7 L942.7,315.7 L943.9,316.9 L945.0,318.2 L946.2,319.6 L947.4,321.3 L948.5,323.1 L949.7,325.0 L950.8,327.1 L952.0,329.4 L953.2,331.8 L954.3,334.4 L955.5,337.2 L956.6,340.1 L957.8,343.1 L959.0,346.3 L960.1,349.6 L961.3,353.1 L962.4,356.8 L963.6,360.5 L964.8,364.4 L965.9,368.5 L967.1,372.7 L968.2,377.0 L969.4,381.4 L970.5,386.0 L971.7,390.7 L972.9,395.5 L974.0,400.4 L975.2,405.5 L976.3,410.7 L977.5,415.9 L978.7,421.3 L979.8,426.8 L981.0,432.4 L982.1,438.1 L983.3,443.9 L984.5,449.8 L985.6,455.8 L986.8,461.9 L987.9,468.0 L989.1,474.3 L990.3,480.6 L991.4,487.0 L992.6,493.4 L993.7,500.0 L994.9,506.6 L996.1,513.2 L997.2,520.0 L998.4,526.8 L999.5,533.6 L1000.7,540.5 L1001.9,547.4 L1003.0,554.4 L1004.2,561.4 L1005.3,568.4 L1006.5,575.5 L1007.7,582.6 L1008.8,589.8 L1010.0,597.0 L1011.1,604.1 L1012.3,611.4 L1013.4,618.6 L1014.6,625.8 L1015.8,633.1 L1016.9,640.3 L1018.1,647.6 L1019.2,654.8 L1020.4,662.1 L1021.6,669.4 L1022.7,676.6 L1023.9,683.8 L1025.0,691.1 L1026.2,698.3 L1027.4,705.5 L1028.5,712.6 L1029.7,719.8 L1030.8,726.9 L1032.0,734.0 L1033.2,741.1 L1034.3,748.1 L1035.5,755.1 L1036.6,762.1 L1037.8,769.0 L1039.0,775.9 L1040.1,782.7 L1041.3,789.5 L1042.4,796.3 L1043.6,803.0 L1044.8,809.7 L1045.9,816.3 L1047.1,822.8 L1048.2,829.3 L1049.4,835.8 L1050.6,842.1 L1051.7,848.5 L1052.9,854.7 L1054.0,860.9 L1055.2,867.1 L1056.4,873.2 L1057.5,879.2 L1058.7,885.1 L1059.8,891.0 L1061.0,896.8 L1062.1,902.6 L1063.3,908.3 L1064.5,913.9 L1065.6,919.4 L1066.8,924.9 L1067.9,930.3 L1069.1,935.6 L1070.3,940.8 L1071.4,946.0 L1072.6,951.1 L1073.7,956.2 L1074.9,961.1 L1076.1,966.0 L1077.2,970.8 L1078.4,975.5 L1079.5,980.2 L1080.7,984.8 L1081.9,989.3 L1083.0,993.7 L1084.2,998.1 L1085.3,1002.4 L1086.5,1006.6 L1087.7,1010.7 L1088.8,1014.8 L1090.0,1018.8 L1091.1,1022.7 L1092.3,1026.6 L1093.5,1030.4 L1094.6,1034.1 L1095.8,1037.7 L1096.9,1041.3 L1098.1,1044.8 L1099.3,1048.2 L1100.4,1051.5 L1101.6,1054.8 L1102.7,1058.0 L1103.9,1061.2 L1105.0,1064.3 L1106.2,1067.3 L1107.4,1070.3 L1108.5,1073.2 L1109.7,1076.0 L1110.8,1078.7 L1112.0,1081.4 L1113.2,1084.1 L1114.3,1086.7 L1115.5,1089.2 L1116.6,1091.6 L1117.8,1094.1 L1119.0,1096.4 L1120.1,1098.7 L1121.3,1100.9 L1122.4,1103.1 L1123.6,1105.2 L1124.8,1107.3 L1125.9,1109.3 L1127.1,1111.3 L1128.2,1113.2 L1129.4,1115.1 L1130.6,1116.9 L1131.7,1118.6 L1132.9,1120.4 L1134.0,1122.0 L1135.2,1123.7 L1136.4,1125.3 L1137.5,1126.8 L1138.7,1128.3 L1139.8,1129.8 L1141.0,1131.2 L1142.2,1132.6 L1143.3,1133.9 L1144.5,1135.2 L1145.6,1136.5 L1146.8,1137.7 L1148.0,1138.9 L1149.1,1140.0 L1150.3,1141.2 L1151.4,1142.2 L1152.6,1143.3 L1153.7,1144.3 L1154.9,1145.3 L1156.1,1146.3 L1157.2,1147.2 L1158.4,1148.1 L1159.5,1149.0 L1160.7,1149.8 L1161.9,1150.6 L1163.0,1151.4 L1164.2,1152.2 L1165.3,1152.9 L1166.5,1153.6 L1167.7,1154.3 L1168.8,1155.0 L1170.0,1155.6 L1171.1,1156.3 L1172.3,1156.9 L1173.5,1157.4 L1174.6,1158.0 L1175.8,1158.5 L1176.9,1159.1 L1178.1,1159.6 L1179.3,1160.1 L1180.4,1160.5 L1181.6,1161.0 L1182.7,1161.4 L1183.9,1161.8 L1185.1,1162.3 L1186.2,1162.6 L1187.4,1163.0 L1188.5,1163.4 L1189.7,1163.7 L1190.9,1164.1 L1192.0,1164.4 L1193.2,1164.7 L1194.3,1165.0 L1195.5,1165.3 L1196.7,1165.6 L1197.8,1165.8 L1199.0,1166.1 L1200.1,1166.3 L1201.3,1166.6 L1202.4,1166.8 L1203.6,1167.0 L1204.8,1167.2 L1205.9,1167.4 L1207.1,1167.6 L1208.2,1167.8 L1209.4,1168.0 L1210.6,1168.2 L1211.7,1168.3 L1212.9,1168.5 L1214.0,1168.6 L1215.2,1168.8 L1216.4,1168.9 L1217.5,1169.1 L1218.7,1169.2 L1219.8,1169.3 L1221.0,1169.4 L1222.2,1169.5 L1223.3,1169.6 L1224.5,1169.7 L1225.6,1169.8 L1226.8,1169.9 L1228.0,1170.0 L1229.1,1170.1 L1230.3,1170.2 L1231.4,1170.3 L1232.6,1170.3 L1233.8,1170.4 L1234.9,1170.5 L1236.1,1170.5 L1237.2,1170.6 L1238.4,1170.7 L1239.6,1170.7 L1240.7,1170.8 L1241.9,1170.8 L1243.0,1170.9 L1244.2,1170.9 L1245.3,1171.0 L1246.5,1171.0 L1247.7,1171.0 L1248.8,1171.1 L1250.0,1171.1 L1251.1,1171.2 L1252.3,1171.2 L1253.5,1171.2 L1254.6,1171.3 L1255.8,1171.3 L1256.9,1171.3 L1258.1,1171.3 L1259.3,1171.4 L1260.4,1171.4 L1261.6,1171.4 L1262.7,1171.4 L1263.9,1171.4 L1265.1,1171.5 L1266.2,1171.5 L1267.4,1171.5 L1268.5,1171.5 L1269.7,1171.5 L1270.9,1171.5 L1272.0,1171.6 L1273.2,1171.6 L1274.3,1171.6 L1275.5,1171.6 L1276.7,1171.6 L1277.8,1171.6 L1279.0,1171.6 L1280.1,1171.6 L1281.3,1171.6 L1282.5,1171.7 L1283.6,1171.7 L1284.8,1171.7 L1285.9,1171.7 L1287.1,1171.7 L1288.3,1171.7 L1289.4,1171.7 L1290.6,1171.7 L1291.7,1171.7 L1292.9,1171.7 L1294.0,1171.7 L1295.2,1171.7 L1296.4,1171.7 L1297.5,1171.7 L1298.7,1171.7 L1299.8,1171.7 L1301.0,1171.7 L1302.2,1171.7 L1303.3,1171.8 L1304.5,1171.8 L1305.6,1171.8 L1306.8,1171.8 L1308.0,1171.8 L1309.1,1171.8 L1310.3,1171.8 L1311.4,1171.8 L1312.6,1171.8 L1313.8,1171.8 L1314.9,1171.8 L1316.1,1171.8 L1317.2,1171.8 L1318.4,1171.8 L1319.6,1171.8 L1320.7,1171.8 L1321.9,1171.8 L1323.0,1171.8 L1324.2,1171.8 L1325.4,1171.8 L1326.5,1171.8 L1327.7,1171.8 L1328.8,1171.8 L1330.0,1171.8 L1331.2,1171.8 L1332.3,1171.8 L1333.5,1171.8 L1334.6,1171.8 L1335.8,1171.8 L1336.9,1171.8 L1338.1,1171.8 L1339.3,1171.8 L1340.4,1171.8 L1341.6,1171.8 L1342.7,1171.8 L1343.9,1171.8 L1345.1,1171.8 L1346.2,1171.8 L1347.4,1171.8 L1348.5,1171.8 L1349.7,1171.8 L1350.9,1171.8 L1352.0,1171.8 L1353.2,1171.8 L1354.3,1171.8 L1355.5,1171.8 L1356.7,1171.8 L1357.8,1171.8 L1359.0,1171.8 L1360.1,1171.8 L1361.3,1171.8 L1362.5,1171.8 L1363.6,1171.8 L1364.8,1171.8 L1365.9,1171.8 L1367.1,1171.8 L1368.3,1171.8 L1369.4,1171.8 L1370.6,1171.8 L1371.7,1171.8 L1372.9,1171.8 L1374.1,1171.8 L1375.2,1171.8 L1376.4,1171.8 L1377.5,1171.8 L1378.7,1171.8 L1379.9,1171.8 L1381.0,1171.8 L1382.2,1171.8 L1383.3,1171.8 L1384.5,1171.8 L1385.6,1171.8 L1386.8,1171.8 L1388.0,1171.8 L1389.1,1171.8 L1390.3,1171.8 L1391.4,1171.8 L1392.6,1171.8 L1393.8,1171.8 L1394.9,1171.8 L1396.1,1171.8 L1397.2,1171.8 L1398.4,1171.8 L1399.6,1171.8 L1400.7,1171.8 L1401.9,1171.8 L1403.0,1171.8 L1404.2,1171.8 L1405.4,1171.8 L1406.5,1171.8 L1407.7,1171.8 L1408.8,1171.8 L1410.0,1171.8 L1411.2,1171.8 L1412.3,1171.8 L1413.5,1171.8 L1414.6,1171.8 L1415.8,1171.8 L1417.0,1171.8 L1418.1,1171.8 L1419.3,1171.8 L1420.4,1171.8 L1421.6,1171.8 L1422.8,1171.8 L1423.9,1171.8 L1425.1,1171.8 L1426.2,1171.8 L1427.4,1171.8 L1428.5,1171.8 L1429.7,1171.8 L1430.9,1171.8 L1432.0,1171.8 L1433.2,1171.8 L1434.3,1171.8 L1435.5,1171.8 L1436.7,1171.8 L1437.8,1171.8 L1439.0,1171.8 L1440.1,1171.8 L1441.3,1171.8 L1442.5,1171.8 L1443.6,1171.8 L1444.8,1171.8 L1445.9,1171.8 L1447.1,1171.8 L1448.3,1171.8 L1449.4,1171.8 L1450.6,1171.8 L1451.7,1171.8 L1452.9,1171.8 L1454.1,1171.8 L1455.2,1171.8 L1456.4,1171.8 L1457.5,1171.8 L1458.7,1171.8 L1459.9,1171.8 L1461.0,1171.8 L1462.2,1171.8 L1463.3,1171.8 L1464.5,1171.8 L1465.7,1171.8 L1466.8,1171.8 L1468.0,1171.8 L1469.1,1171.8 L1470.3,1171.8 L1471.5,1171.8 L1472.6,1171.8 L1473.8,1171.8 L1474.9,1171.8 L1476.1,1171.8 L1477.2,1171.8 L1478.4,1171.8 L1479.6,1171.8 L1480.7,1171.8 L1481.9,1171.8 L1483.0,1171.8 L1484.2,1171.8 L1485.4,1171.8 L1486.5,1171.8 L1487.7,1171.8 L1488.8,1171.8 L1490.0,1171.8 L1491.2,1171.8 L1492.3,1171.8 L1493.5,1171.8 L1494.6,1171.8 L1495.8,1171.8 L1497.0,1171.8 L1498.1,1171.8 L1499.3,1171.8 L1500.4,1171.8 L1501.6,1171.8 L1502.8,1171.8 L1503.9,1171.8 L1505.1,1171.8 L1506.2,1171.8 L1507.4,1171.8 L1508.6,1171.8 L1509.7,1171.8 L1510.9,1171.8 L1512.0,1171.8 L1513.2,1171.8 L1514.4,1171.8 L1515.5,1171.8 L1516.7,1171.8 L1517.8,1171.8 L1519.0,1171.8 L1520.2,1171.8 L1521.3,1171.8 L1522.5,1171.8 L1523.6,1171.8 L1524.8,1171.8 L1525.9,1171.8 L1527.1,1171.8 L1528.3,1171.8 L1529.4,1171.8 L1530.6,1171.8 L1531.7,1171.8 L1532.9,1171.8 L1534.1,1171.8 L1535.2,1171.8 L1536.4,1171.8 L1537.5,1171.8 L1538.7,1171.8 L1539.9,1171.8 L1541.0,1171.8 L1542.2,1171.8 L1543.3,1171.8 L1544.5,1171.8 L1545.7,1171.8 L1546.8,1171.8 L1548.0,1171.8 L1549.1,1171.8 L1550.3,1171.8 L1551.5,1171.8 L1552.6,1171.8 L1553.8,1171.8 L1554.9,1171.8 L1556.1,1171.8 L1557.3,1171.8 L1558.4,1171.8 L1559.6,1171.8 L1560.7,1171.8 L1561.9,1171.8 L1563.1,1171.8 L1564.2,1171.8 L1565.4,1171.8 L1566.5,1171.8 L1567.7,1171.8 L1568.8,1171.8 L1570.0,1171.8 L1571.2,1171.8 L1572.3,1171.8 L1573.5,1171.8 L1574.6,1171.8 L1575.8,1171.8 L1577.0,1171.8 L1578.1,1171.8 L1579.3,1171.8 L1580.4,1171.8 L1581.6,1171.8 L1582.8,1171.8 L1583.9,1171.8 L1585.1,1171.8 L1586.2,1171.8 L1587.4,1171.8 L1588.6,1171.8 L1589.7,1171.8 L1590.9,1171.8 L1592.0,1171.8 L1593.2,1171.8 L1594.4,1171.8 L1595.5,1171.8 L1596.7,1171.8 L1597.8,1171.8 L1599.0,1171.8 L1600.2,1171.8 L1601.3,1171.8 L1602.5,1171.8 L1603.6,1171.8 L1604.8,1171.8 L1606.0,1171.8 L1607.1,1171.8 L1608.3,1171.8 L1609.4,1171.8 L1610.6,1171.8 L1611.8,1171.8 L1612.9,1171.8 L1614.1,1171.8 L1615.2,1171.8 L1616.4,1171.8 L1617.5,1171.8 L1618.7,1171.8 L1619.9,1171.8 L1621.0,1171.8 L1622.2,1171.8 L1623.3,1171.8 L1624.5,1171.8 L1625.7,1171.8 L1626.8,1171.8 L1628.0,1171.8 L1629.1,1171.8 L1630.3,1171.8 L1631.5,1171.8 L1632.6,1171.8 L1633.8,1171.8 L1634.9,1171.8 L1636.1,1171.8 L1637.3,1171.8 L1638.4,1171.8 L1639.6,1171.8 L1640.7,1171.8 L1641.9,1171.8 L1643.1,1171.8 L1644.2,1171.8 L1645.4,1171.8 L1646.5,1171.8 L1647.7,1171.8 L1648.9,1171.8 L1650.0,1171.8 L1651.2,1171.8 L1652.3,1171.8 L1653.5,1171.8 L1654.7,1171.8 L1655.8,1171.8 L1657.0,1171.8 L1658.1,1171.8 L1659.3,1171.8 L1660.5,1171.8 L1661.6,1171.8 L1662.8,1171.8 L1663.9,1171.8 L1665.1,1171.8 L1666.2,1171.8 L1667.4,1171.8 L1668.6,1171.8 L1669.7,1171.8 L1670.9,1171.8 L1672.0,1171.8 L1673.2,1171.8 L1674.4,1171.8 L1675.5,1171.8 L1676.7,1171.8 L1677.8,1171.8 L1679.0,1171.8 L1680.2,1171.8 L1681.3,1171.8 L1682.5,1171.8 L1683.6,1171.8 L1684.8,1171.8 L1686.0,1171.8 L1687.1,1171.8 L1688.3,1171.8 L1689.4,1171.8 L1690.6,1171.8 L1691.8,1171.8 L1692.9,1171.8 L1694.1,1171.8 L1695.2,1171.8 L1696.4,1171.8 L1697.6,1171.8 L1698.7,1171.8 L1699.9,1171.8 L1701.0,1171.8 L1702.2,1171.8 L1703.4,1171.8 L1704.5,1171.8 L1705.7,1171.8 L1706.8,1171.8 L1708.0,1171.8 L1709.1,1171.8 L1710.3,1171.8 L1711.5,1171.8 L1712.6,1171.8 L1713.8,1171.8 L1714.9,1171.8 L1716.1,1171.8 L1717.3,1171.8 L1718.4,1171.8 L1719.6,1171.8 L1720.7,1171.8 L1721.9,1171.8 L1723.1,1171.8 L1724.2,1171.8 L1725.4,1171.8 L1726.5,1171.8 L1727.7,1171.8 L1728.9,1171.8 L1730.0,1171.8 L1731.2,1171.8 L1732.3,1171.8 L1733.5,1171.8 L1734.7,1171.8 L1735.8,1171.8 L1737.0,1171.8 L1738.1,1171.8 L1739.3,1171.8 L1740.5,1171.8 L1741.6,1171.8 L1742.8,1171.8 L1743.9,1171.8 L1745.1,1171.8 L1746.3,1171.8 L1747.4,1171.8 L1748.6,1171.8 L1749.7,1171.8 L1750.9,1171.8 L1752.1,1171.8 L1753.2,1171.8" stroke="#00ff00"/>
<path d="M408.2,1171.8 L409.3,1171.8 L410.5,1171.8 L411.7,1171.8 L412.8,1171.8 L414.0,1171.8 L415.1,1171.8 L416.3,1171.8 L417.5,1171.8 L418.6,1171.8 L419.8,1171.8 L420.9,1171.8 L422.1,1171.8 L423.3,1171.8 L424.4,1171.8 L425.6,1171.8 L426.7,1171.8 L427.9,1171.8 L429.1,1171.8 L430.2,1171.8 L431.4,1171.8 L432.5,1171.8 L433.7,1171.8 L434.9,1171.8 L436.0,1171.8 L437.2,1171.8 L438.3,1171.8 L439.5,1171.8 L440.7,1171.8 L441.8,1171.8 L443.0,1171.8 L444.1,1171.8 L445.3,1171.8 L446.5,1171.8 L447.6,1171.8 L448.8,1171.8 L449.9,1171.8 L451.1,1171.8 L452.3,1171.8 L453.4,1171.8 L454.6,1171.8 L455.7,1171.8 L456.9,1171.8 L458.0,1171.8 L459.2,1171.8 L460.4,1171.8 L461.5,1171.8 L462.7,1171.8 L463.8,1171.8 L465.0,1171.8 L466.2,1171.8 L467.3,1171.8 L468.5,1171.8 L469.6,1171.8 L470.8,1171.8 L472.0,1171.8 L473.1,1171.8 L474.3,1171.8 L475.4,1171.8 L476.6,1171.8 L477.8,1171.8 L478.9,1171.8 L480.1,1171.8 L481.2,1171.8 L482.4,1171.8 L483.6,1171.8 L484.7,1171.8 L485.9,1171.8 L487.0,1171.8 L488.2,1171.8 L489.4,1171.8 L490.5,1171.8 L491.7,1171.8 L492.8,1171.8 L494.0,1171.8 L495.2,1171.8 L496.3,1171.8 L497.5,1171.8 L498.6,1171.8 L499.8,1171.8 L500.9,1171.8 L502.1,1171.8 L503.3,1171.8 L504.4,1171.8 L505.6,1171.8 L506.7,1171.8 L507.9,1171.8 L509.1,1171.8 L510.2,1171.8 L511.4,1171.8 L512.5,1171.8 L513.7,1171.8 L514.9,1171.8 L516.0,1171.8 L517.2,1171.8 L518.3,1171.8 L519.5,1171.8 L520.7,1171.8 L521.8,1171.8 L523.0,1171.8 L524.1,1171.8 L525.3,1171.8 L526.5,1171.8 L527.6,1171.8 L528.8,1171.8 L529.9,1171.8 L531.1,1171.8 L532.3,1171.8 L533.4,1171.8 L534.6,1171.8 L535.7,1171.8 L536.9,1171.8 L538.1,1171.8 L539.2,1171.8 L540.4,1171.8 L541.5,1171.8 L542.7,1171.8 L543.9,1171.8 L545.0,1171.8 L546.2,1171.8 L547.3,1171.8 L548.5,1171.8 L549.6,1171.8 L550.8,1171.8 L552.0,1171.8 L553.1,1171.8 L554.3,1171.8 L555.4,1171.8 L556.6,1171.8 L557.8,1171.8 L558.9,1171.8 L560.1,1171.8 L561.2,1171.8 L562.4,1171.8 L563.6,1171.8 L564.7,1171.8 L565.9,1171.8 L567.0,1171.8 L568.2,1171.8 L569.4,1171.8 L570.5,1171.8 L571.7,1171.8 L572.8,1171.8 L574.0,1171.8 L575.2,1171.8 L576.3,1171.8 L577.5,1171.8 L578.6,1171.8 L579.8,1171.8 L581.0,1171.8 L582.1,1171.8 L583.3,1171.8 L584.4,1171.8 L585.6,1171.8 L586.8,1171.8 L587.9,1171.8 L589.1,1171.8 L590.2,1171.8 L591.4,1171.8 L592.6,1171.8 L593.7,1171.8 L594.9,1171.8 L596.0,1171.8 L597.2,1171.8 L598.3,1171.8 L599.5,1171.8 L600.7,1171.8 L601.8,1171.8 L603.0,1171.8 L604.1,1171.8 L605.3,1171.8 L606.5,1171.8 L607.6,1171.8 L608.8,1171.8 L609.9,1171.8 L611.1,1171.8 L612.3,1171.8 L613.4,1171.8 L614.6,1171.8 L615.7,1171.8 L616.9,1171.8 L618.1,1171.8 L619.2,1171.8 L620.4,1171.8 L621.5,1171.8 L622.7,1171.8 L623.9,1171.8 L625.0,1171.8 L626.2,1171.8 L627.3,1171.8 L628.5,1171.8 L629.7,1171.8 L630.8,1171.8 L632.0,1171.8 L633.1,1171.8 L634.3,1171.8 L635.5,1171.8 L636.6,1171.8 L637.8,1171.8 L638.9,1171.8 L640.1,1171.8 L641.2,1171.8 L642.4,1171.8 L643.6,1171.8 L644.7,1171.8 L645.9,1171.8 L647.0,1171.8 L648.2,1171.8 L649.4,1171.8 L650.5,1171.8 L651.7,1171.8 L652.8,1171.8 L654.0,1171.8 L655.2,1171.8 L656.3,1171.8 L657.5,1171.8 L658.6,1171.8 L659.8,1171.8 L661.0,1171.8 L662.1,1171.8 L663.3,1171.8 L664.4,1171.8 L665.6,1171.8 L666.8,1171.8 L667.9,1171.8 L669.1,1171.8 L670.2,1171.8 L671.4,1171.8 L672.6,1171.8 L673.7,1171.8 L674.9,1171.8 L676.0,1171.8 L677.2,1171.8 L678.4,1171.8 L679.5,1171.8 L680.7,1171.8 L681.8,1171.8 L683.0,1171.8 L684.2,1171.8 L685.3,1171.8 L686.5,1171.8 L687.6,1171.8 L688.8,1171.8 L689.9,1171.8 L691.1,1171.8 L692.3,1171.8 L693.4,1171.8 L694.6,1171.8 L695.7,1171.8 L696.9,1171.8 L698.1,1171.8 L699.2,1171.8 L700.4,1171.8 L701.5,1171.8 L702.7,1171.8 L703.9,1171.8 L705.0,1171.8 L706.2,1171.8 L707.3,1171.8 L708.5,1171.8 L709.7,1171.8 L710.8,1171.8 L712.0,1171.8 L713.1,1171.8 L714.3,1171.8 L715.5,1171.8 L716.6,1171.8 L717.8,1171.7 L718.9,1171.7 L720.1,1171.7 L721.3,1171.7 L722.4,1171.7 L723.6,1171.7 L724.7,1171.7 L725.9,1171.7 L727.1,1171.7 L728.2,1171.7 L729.4,1171.7 L730.5,1171.7 L731.7,1171.7 L732.9,1171.7 L734.0,1171.7 L735.2,1171.7 L736.3,1171.7 L737.5,1171.7 L738.6,1171.7 L739.8,1171.7 L741.0,1171.7 L742.1,1171.7 L743.3,1171.6 L744.4,1171.6 L745.6,1171.6 L746.8,1171.6 L747.9,1171.6 L749.1,1171.6 L750.2,1171.6 L751.4,1171.6 L752.6,1171.6 L753.7,1171.6 L754.9,1171.5 L756.0,1171.5 L757.2,1171.5 L758.4,1171.5 L759.5,1171.5 L760.7,1171.5 L761.8,1171.5 L763.0,1171.4 L764.2,1171.4 L765.3,1171.4 L766.5,1171.4 L767.6,1171.4 L768.8,1171.4 L770.0,1171.3 L771.1,1171.3 L772.3,1171.3 L773.4,1171.3 L774.6,1171.2 L775.8,1171.2 L776.9,1171.2 L778.1,1171.2 L779.2,1171.1 L780.4,1171.1 L781.5,1171.1 L782.7,1171.0 L783.9,1171.0 L785.0,1171.0 L786.2,1170.9 L787.3,1170.9 L788.5,1170.9 L789.7,1170.8 L790.8,1170.8 L792.0,1170.7 L793.1,1170.7 L794.3,1170.7 L795.5,1170.6 L796.6,1170.6 L797.8,1170.5 L798.9,1170.4 L800.1,1170.4 L801.3,1170.3 L802.4,1170.3 L803.6,1170.2 L804.7,1170.1 L805.9,1170.1 L807.1,1170.0 L808.2,1169.9 L809.4,1169.9 L810.5,1169.8 L811.7,1169.7 L812.9,1169.6 L814.0,1169.5 L815.2,1169.4 L816.3,1169.3 L817.5,1169.2 L818.7,1169.1 L819.8,1169.0 L821.0,1168.9 L822.1,1168.8 L823.3,1168.7 L824.5,1168.6 L825.6,1168.5 L826.8,1168.4 L827.9,1168.2 L829.1,1168.1 L830.2,1168.0 L831.4,1167.8 L832.6,1167.7 L833.7,1167.5 L834.9,1167.4 L836.0,1167.2 L837.2,1167.0 L838.4,1166.9 L839.5,1166.7 L840.7,1166.5 L841.8,1166.3 L843.0,1166.1 L844.2,1165.9 L845.3,1165.7 L846.5,1165.5 L847.6,1165.3 L848.8,1165.1 L850.0,1164.8 L851.1,1164.6 L852.3,1164.4 L853.4,1164.1 L854.6,1163.9 L855.8,1163.6 L856.9,1163.3 L858.1,1163.0 L859.2,1162.8 L860.4,1162.5 L861.6,1162.2 L862.7,1161.8 L863.9,1161.5 L865.0,1161.2 L866.2,1160.9 L867.4,1160.5 L868.5,1160.2 L869.7,1159.8 L870.8,1159.4 L872.0,1159.1 L873.1,1158.7 L874.3,1158.3 L875.5,1157.9 L876.6,1157.4 L877.8,1157.0 L878.9,1156.6 L880.1,1156.1 L881.3,1155.7 L882.4,1155.2 L883.6,1154.7 L884.7,1154.2 L885.9,1153.7 L887.1,1153.2 L888.2,1152.7 L889.4,1152.1 L890.5,1151.6 L891.7,1151.0 L892.9,1150.4 L894.0,1149.8 L895.2,1149.2 L896.3,1148.6 L897.5,1148.0 L898.7,1147.4 L899.8,1146.7 L901.0,1146.0 L902.1,1145.4 L903.3,1144.7 L904.5,1144.0 L905.6,1143.3 L906.8,1142.5 L907.9,1141.8 L909.1,1141.0 L910.3,1140.3 L911.4,1139.5 L912.6,1138.7 L913.7,1137.9 L914.9,1137.0 L916.1,1136.2 L917.2,1135.3 L918.4,1134.5 L919.5,1133.6 L920.7,1132.7 L921.8,1131.8 L923.0,1130.8 L924.2,1129.9 L925.3,1128.9 L926.5,1128.0 L927.6,1127.0 L928.8,1126.0 L930.0,1125.0 L931.1,1123.9 L932.3,1122.9 L933.4,1121.8 L934.6,1120.8 L935.8,1119.7 L936.9,1118.6 L938.1,1117.5 L939.2,1116.3 L940.4,1115.2 L941.6,1114.1 L942.7,1112.9 L943.9,1111.7 L945.0,1110.5 L946.2,1109.3 L947.4,1108.1 L948.5,1106.8 L949.7,1105.6 L950.8,1104.3 L952.0,1103.1 L953.2,1101.8 L954.3,1100.5 L955.5,1099.2 L956.6,1097.9 L957.8,1096.5 L959.0,1095.2 L960.1,1093.8 L961.3,1092.5 L962.4,1091.1 L963.6,1089.7 L964.8,1088.3 L965.9,1086.9 L967.1,1085.5 L968.2,1084.1 L969.4,1082.7 L970.5,1081.2 L971.7,1079.8 L972.9,1078.3 L974.0,1076.9 L975.2,1075.4 L976.3,1074.0 L977.5,1072.5 L978.7,1071.0 L979.8,1069.5 L981.0,1068.0 L982.1,1066.5 L983.3,1065.0 L984.5,1063.5 L985.6,1062.0 L986.8,1060.5 L987.9,1059.0 L989.1,1057.5 L990.3,1056.0 L991.4,1054.5 L992.6,1053.0 L993.7,1051.5 L994.9,1050.0 L996.1,1048.5 L997.2,1047.0 L998.4,1045.5 L999.5,1044.0 L1000.7,1042.5 L1001.9,1041.0 L1003.0,1039.6 L1004.2,1038.1 L1005.3,1036.6 L1006.5,1035.2 L1007.7,1033.7 L1008.8,1032.3 L1010.0,1030.8 L1011.1,1029.4 L1012.3,1028.0 L1013.4,1026.6 L1014.6,1025.2 L1015.8,1023.8 L1016.9,1022.4 L1018.1,1021.1 L1019.2,1019.7 L1020.4,1018.4 L1021.6,1017.1 L1022.7,1015.8 L1023.9,1014.5 L1025.0,1013.2 L1026.2,1012.0 L1027.4,1010.8 L1028.5,1009.5 L1029.7,1008.3 L1030.8,1007.2 L1032.0,1006.0 L1033.2,1004.9 L1034.3,1003.7 L1035.5,1002.7 L1036.6,1001.6 L1037.8,1000.5 L1039.0,999.5 L1040.1,998.5 L1041.3,997.5 L1042.4,996.5 L1043.6,995.6 L1044.8,994.7 L1045.9,993.8 L1047.1,993.0 L1048.2,992.1 L1049.4,991.3 L1050.6,990.5 L1051.7,989.8 L1052.9,989.1 L1054.0,988.4 L1055.2,987.7 L1056.4,987.1 L1057.5,986.4 L1058.7,985.9 L1059.8,985.3 L1061.0,984.8 L1062.1,984.3 L1063.3,983.8 L1064.5,983.4 L1065.6,983.0 L1066.8,982.6 L1067.9,982.3 L1069.1,982.0 L1070.3,981.7 L1071.4,981.5 L1072.6,981.3 L1073.7,981.1 L1074.9,981.0 L1076.1,980.8 L1077.2,980.8 L1078.4,980.7 L1079.5,980.7 L1080.7,980.7 L1081.9,980.8 L1083.0,980.8 L1084.2,981.0 L1085.3,981.1 L1086.5,981.3 L1087.7,981.5 L1088.8,981.7 L1090.0,982.0 L1091.1,982.3 L1092.3,982.6 L1093.5,983.0 L1094.6,983.4 L1095.8,983.8 L1096.9,984.3 L1098.1,984.8 L1099.3,985.3 L1100.4,985.9 L1101.6,986.4 L1102.7,987.1 L1103.9,987.7 L1105.0,988.4 L1106.2,989.1 L1107.4,989.8 L1108.5,990.5 L1109.7,991.3 L1110.8,992.1 L1112.0,993.0 L1113.2,993.8 L1114.3,994.7 L1115.5,995.6 L1116.6,996.5 L1117.8,997.5 L1119.0,998.5 L1120.1,999.5 L1121.3,1000.5 L1122.4,1001.6 L1123.6,1002.7 L1124.8,1003.7 L1125.9,1004.9 L1127.1,1006.0 L1128.2,1007.2 L1129.4,1008.3 L1130.6,1009.5 L1131.7,1010.8 L1132.9,1012.0 L1134.0,1013.2 L1135.2,1014.5 L1136.4,1015.8 L1137.5,1017.1 L1138.7,1018.4 L1139.8,1019.7 L1141.0,1021.1 L1142.2,1022.4 L1143.3,1023.8 L1144.5,1025.2 L1145.6,1026.6 L1146.8,1028.0 L1148.0,1029.4 L1149.1,1030.8 L1150.3,1032.3 L1151.4,1033.7 L1152.6,1035.2 L1153.7,1036.6 L1154.9,1038.1 L1156.1,1039.6 L1157.2,1041.0 L1158.4,1042.5 L1159.5,1044.0 L1160.7,1045.5 L1161.9,1047.0 L1163.0,1048.5 L1164.2,1050.0 L1165.3,1051.5 L1166.5,1053.0 L1167.7,1054.5 L1168.8,1056.0 L1170.0,1057.5 L1171.1,1059.0 L1172.3,1060.5 L1173.5,1062.0 L1174.6,1063.5 L1175.8,1065.0 L1176.9,1066.5 L1178.1,1068.0 L1179.3,1069.5 L1180.4,1071.0 L1181.6,1072.5 L1182.7,1074.0 L1183.9,1075.4 L1185.1,1076.9 L1186.2,1078.3 L1187.4,1079.8 L1188.5,1081.2 L1189.7,1082.7 L1190.9,1084.1 L1192.0,1085.5 L1193.2,1086.9 L1194.3,1088.3 L1195.5,1089.7 L1196.7,1091.1 L1197.8,1092.5 L1199.0,1093.8 L1200.1,1095.2 L1201.3,1096.5 L1202.4,1097.9 L1203.6,1099.2 L1204.8,1100.5 L1205.9,1101.8 L1207.1,1103.1 L1208.2,1104.3 L1209.4,1105.6 L1210.6,1106.8 L1211.7,1108.1 L1212.9,1109.3 L1214.0,1110.5 L1215.2,1111.7 L1216.4,1112.9 L1217.5,1114.1 L1218.7,1115.2 L1219.8,1116.3 L1221.0,1117.5 L1222.2,1118.6 L1223.3,1119.7 L1224.5,1120.8 L1225.6,1121.8 L1226.8,1122.9 L1228.0,1123.9 L1229.1,1125.0 L1230.3,1126.0 L1231.4,1127.0 L1232.6,1128.0 L1233.8,1128.9 L1234.9,1129.9 L1236.1,1130.8 L1237.2,1131.8 L1238.4,1132.7 L1239.6,1133.6 L1240.7,1134.5 L1241.9,1135.3 L1243.0,1136.2 L1244.2,1137.0 L1245.3,1137.9 L1246.5,1138.7 L1247.7,1139.5 L1248.8,1140.3 L1250.0,1141.0 L1251.1,1141.8 L1252.3,1142.5 L1253.5,1143.3 L1254.6,1144.0 L1255.8,1144.7 L1256.9,1145.4 L1258.1,1146.0 L1259.3,1146.7 L1260.4,1147.4 L1261.6,1148.0 L1262.7,1148.6 L1263.9,1149.2 L1265.1,1149.8 L1266.2,1150.4 L1267.4,1151.0 L1268.5,1151.6 L1269.7,1152.1 L1270.9,1152.7 L1272.0,1153.2 L1273.2,1153.7 L1274.3,1154.2 L1275.5,1154.7 L1276.7,1155.2 L1277.8,1155.7 L1279.0,1156.1 L1280.1,1156.6 L1281.3,1157.0 L1282.5,1157.4 L1283.6,1157.9 L1284.8,1158.3 L1285.9,1158.7 L1287.1,1159.1 L1288.3,1159.4 L1289.4,1159.8 L1290.6,1160.2 L1291.7,1160.5 L1292.9,1160.9 L1294.0,1161.2 L1295.2,1161.5 L1296.4,1161.8 L1297.5,1162.2 L1298.7,1162.5 L1299.8,1162.8 L1301.0,1163.0 L1302.2,1163.3 L1303.3,1163.6 L1304.5,1163.9 L1305.6,1164.1 L1306.8,1164.4 L1308.0,1164.6 L1309.1,1164.8 L1310.3,1165.1 L1311.4,1165.3 L1312.6,1165.5 L1313.8,1165.7 L1314.9,1165.9 L1316.1,1166.1 L1317.2,1166.3 L1318.4,1166.5 L1319.6,1166.7 L1320.7,1166.9 L1321.9,1167.0 L1323.0,1167.2 L1324.2,1167.4 L1325.4,1167.5 L1326.5,1167.7 L1327.7,1167.8 L1328.8,1168.0 L1330.0,1168.1 L1331.2,1168.2 L1332.3,1168.4 L1333.5,1168.5 L1334.6,1168.6 L1335.8,1168.7 L1336.9,1168.8 L1338.1,1168.9 L1339.3,1169.0 L1340.4,1169.1 L1341.6,1169.2 L1342.7,1169.3 L1343.9,1169.4 L1345.1,1169.5 L1346.2,1169.6 L1347.4,1169.7 L1348.5,1169.8 L1349.7,1169.9 L1350.9,1169.9 L1352.0,1170.0 L1353.2,1170.1 L1354.3,1170.1 L1355.5,1170.2 L1356.7,1170.3 L1357.8,1170.3 L1359.0,1170.4 L1360.1,1170.4 L1361.3,1170.5 L1362.5,1170.6 L1363.6,1170.6 L1364.8,1170.7 L1365.9,1170.7 L1367.1,1170.7 L1368.3,1170.8 L1369.4,1170.8 L1370.6,1170.9 L1371.7,1170.9 L1372.9,1170.9 L1374.1,1171.0 L1375.2,1171.0 L1376.4,1171.0 L1377.5,1171.1 L1378.7,1171.1 L1379.9,1171.1 L1381.0,1171.2 L1382.2,1171.2 L1383.3,1171.2 L1384.5,1171.2 L1385.6,1171.3 L1386.8,1171.3 L1388.0,1171.3 L1389.1,1171.3 L1390.3,1171.4 L1391.4,1171.4 L1392.6,1171.4 L1393.8,1171.4 L1394.9,1171.4 L1396.1,1171.4 L1397.2,1171.5 L1398.4,1171.5 L1399.6,1171.5 L1400.7,1171.5 L1401.9,1171.5 L1403.0,1171.5 L1404.2,1171.5 L1405.4,1171.6 L1406.5,1171.6 L1407.7,1171.6 L1408.8,1171.6 L1410.0,1171.6 L1411.2,1171.6 L1412.3,1171.6 L1413.5,1171.6 L1414.6,1171.6 L1415.8,1171.6 L1417.0,1171.7 L1418.1,1171.7 L1419.3,1171.7 L1420.4,1171.7 L1421.6,1171.7 L1422.8,1171.7 L1423.9,1171.7 L1425.1,1171.7 L1426.2,1171.7 L1427.4,1171.7 L1428.5,1171.7 L1429.7,1171.7 L1430.9,1171.7 L1432.0,1171.7 L1433.2,1171.7 L1434.3,1171.7 L1435.5,1171.7 L1436.7,1171.7 L1437.8,1171.7 L1439.0,1171.7 L1440.1,1171.7 L1441.3,1171.7 L1442.5,1171.8 L1443.6,1171.8 L1444.8,1171.8 L1445.9,1171.8 L1447.1,1171.8 L1448.3,1171.8 L1449.4,1171.8 L1450.6,1171.8 L1451.7,1171.8 L1452.9,1171.8 L1454.1,1171.8 L1455.2,1171.8 L1456.4,1171.8 L1457.5,1171.8 L1458.7,1171.8 L1459.9,1171.8 L1461.0,1171.8 L1462.2,1171.8 L1463.3,1171.8 L1464.5,1171.8 L1465.7,1171.8 L1466.8,1171.8 L1468.0,1171.8 L1469.1,1171.8 L1470.3,1171.8 L1471.5,1171.8 L1472.6,1171.8 L1473.8,1171.8 L1474.9,1171.8 L1476.1,1171.8 L1477.2,1171.8 L1478.4,1171.8 L1479.6,1171.8 L1480.7,1171.8 L1481.9,1171.8 L1483.0,1171.8 L1484.2,1171.8 L1485.4,1171.8 L1486.5,1171.8 L1487.7,1171.8 L1488.8,1171.8 L1490.0,1171.8 L1491.2,1171.8 L1492.3,1171.8 L1493.5,1171.8 L1494.6,1171.8 L1495.8,1171.8 L1497.0,1171.8 L1498.1,1171.8 L1499.3,1171.8 L1500.4,1171.8 L1501.6,1171.8 L1502.8,1171.8 L1503.9,1171.8 L1505.1,1171.8 L1506.2,1171.8 L1507.4,1171.8 L1508.6,1171.8 L1509.7,1171.8 L1510.9,1171.8 L1512.0,1171.8 L1513.2,1171.8 L1514.4,1171.8 L1515.5,1171.8 L1516.7,1171.8 L1517.8,1171.8 L1519.0,1171.8 L1520.2,1171.8 L1521.3,1171.8 L1522.5,1171.8 L1523.6,1171.8 L1524.8,1171.8 L1525.9,1171.8 L1527.1,1171.8 L1528.3,1171.8 L1529.4,1171.8 L1530.6,1171.8 L1531.7,1171.8 L1532.9,1171.8 L1534.1,1171.8 L1535.2,1171.8 L1536.4,1171.8 L1537.5,1171.8 L1538.7,1171.8 L1539.9,1171.8 L1541.0,1171.8 L1542.2,1171.8 L1543.3,1171.8 L1544.5,1171.8 L1545.7,1171.8 L1546.8,1171.8 L1548.0,1171.8 L1549.1,1171.8 L1550.3,1171.8 L1551.5,1171.8 L1552.6,1171.8 L1553.8,1171.8 L1554.9,1171.8 L1556.1,1171.8 L1557.3,1171.8 L1558.4,1171.8 L1559.6,1171.8 L1560.7,1171.8 L1561.9,1171.8 L1563.1,1171.8 L1564.2,1171.8 L1565.4,1171.8 L1566.5,1171.8 L1567.7,1171.8 L1568.8,1171.8 L1570.0,1171.8 L1571.2,1171.8 L1572.3,1171.8 L1573.5,1171.8 L1574.6,1171.8 L1575.8,1171.8 L1577.0,1171.8 L1578.1,1171.8 L1579.3,1171.8 L1580.4,1171.8 L1581.6,1171.8 L1582.8,1171.8 L1583.9,1171.8 L1585.1,1171.8 L1586.2,1171.8 L1587.4,1171.8 L1588.6,1171.8 L1589.7,1171.8 L1590.9,1171.8 L1592.0,1171.8 L1593.2,1171.8 L1594.4,1171.8 L1595.5,1171.8 L1596.7,1171.8 L1597.8,1171.8 L1599.0,1171.8 L1600.2,1171.8 L1601.3,1171.8 L1602.5,1171.8 L1603.6,1171.8 L1604.8,1171.8 L1606.0,1171.8 L1607.1,1171.8 L1608.3,1171.8 L1609.4,1171.8 L1610.6,1171.8 L1611.8,1171.8 L1612.9,1171.8 L1614.1,1171.8 L1615.2,1171.8 L1616.4,1171.8 L1617.5,1171.8 L1618.7,1171.8 L1619.9,1171.8 L1621.0,1171.8 L1622.2,1171.8 L1623.3,1171.8 L1624.5,1171.8 L1625.7,1171.8 L1626.8,1171.8 L1628.0,1171.8 L1629.1,1171.8 L1630.3,1171.8 L1631.5,1171.8 L1632.6,1171.8 L1633.8,1171.8 L1634.9,1171.8 L1636.1,1171.8 L1637.3,1171.8 L1638.4,1171.8 L1639.6,1171.8 L1640.7,1171.8 L1641.9,1171.8 L1643.1,1171.8 L1644.2,1171.8 L1645.4,1171.8 L1646.5,1171.8 L1647.7,1171.8 L1648.9,1171.8 L1650.0,1171.8 L1651.2,1171.8 L1652.3,1171.8 L1653.5,1171.8 L1654.7,1171.8 L1655.8,1171.8 L1657.0,1171.8 L1658.1,1171.8 L1659.3,1171.8 L1660.5,1171.8 L1661.6,1171.8 L1662.8,1171.8 L1663.9,1171.8 L1665.1,1171.8 L1666.2,1171.8 L1667.4,1171.8 L1668.6,1171.8 L1669.7,1171.8 L1670.9,1171.8 L1672.0,1171.8 L1673.2,1171.8 L1674.4,1171.8 L1675.5,1171.8 L1676.7,1171.8 L1677.8,1171.8 L1679.0,1171.8 L1680.2,1171.8 L1681.3,1171.8 L1682.5,1171.8 L1683.6,1171.8 L1684.8,1171.8 L1686.0,1171.8 L1687.1,1171.8 L1688.3,1171.8 L1689.4,1171.8 L1690.6,1171.8 L1691.8,1171.8 L1692.9,1171.8 L1694.1,1171.8 L1695.2,1171.8 L1696.4,1171.8 L1697.6,1171.8 L1698.7,1171.8 L1699.9,1171.8 L1701.0,1171.8 L1702.2,1171.8 L1703.4,1171.8 L1704.5,1171.8 L1705.7,1171.8 L1706.8,1171.8 L1708.0,1171.8 L1709.1,1171.8 L1710.3,1171.8 L1711.5,1171.8 L1712.6,1171.8 L1713.8,1171.8 L1714.9,1171.8 L1716.1,1171.8 L1717.3,1171.8 L1718.4,1171.8 L1719.6,1171.8 L1720.7,1171.8 L1721.9,1171.8 L1723.1,1171.8 L1724.2,1171.8 L1725.4,1171.8 L1726.5,1171.8 L1727.7,1171.8 L1728.9,1171.8 L1730.0,1171.8 L1731.2,1171.8 L1732.3,1171.8 L1733.5,1171.8 L1734.7,1171.8 L1735.8,1171.8 L1737.0,1171.8 L1738.1,1171.8 L1739.3,1171.8 L1740.5,1171.8 L1741.6,1171.8 L1742.8,1171.8 L1743.9,1171.8 L1745.1,1171.8 L1746.3,1171.8 L1747.4,1171.8 L1748.6,1171.8 L1749.7,1171.8 L1750.9,1171.8 L1752.1,1171.8 L1753.2,1171.8" stroke="#0000ff"/>
<path d="M408.2,1171.8 L409.3,1171.8 L410.5,1171.8 L411.7,1171.8 L412.8,1171.8 L414.0,1171.8 L415.1,1171.8 L416.3,1171.8 L417.5,1171.8 L418.6,1171.8 L419.8,1171.8 L420.9,1171.8 L422.1,1171.8 L423.3,1171.8 L424.4,1171.8 L425.6,1171.8 L426.7,1171.8 L427.9,1171.8 L429.1,1171.8 L430.2,1171.8 L431.4,1171.8 L432.5,1171.8 L433.7,1171.8 L434.9,1171.8 L436.0,1171.8 L437.2,1171.8 L438.3,1171.8 L439.5,1171.8 L440.7,1171.8 L441.8,1171.8 L443.0,1171.8 L444.1,1171.8 L445.3,1171.8 L446.5,1171.8 L447.6,1171.8 L448.8,1171.8 L449.9,1171.8 L451.1,1171.8 L452.3,1171.8 L453.4,1171.8 L454.6,1171.8 L455.7,1171.8 L456.9,1171.8 L458.0,1171.8 L459.2,1171.8 L460.4,1171.8 L461.5,1171.8 L462.7,1171.8 L463.8,1171.8 L465.0,1171.8 L466.2,1171.8 L467.3,1171.8 L468.5,1171.8 L469.6,1171.8 L470.8,1171.8 L472.0,1171.8 L473.1,1171.8 L474.3,1171.8 L475.4,1171.8 L476.6,1171.8 L477.8,1171.8 L478.9,1171.8 L480.1,1171.8 L481.2,1171.8 L482.4,1171.8 L483.6,1171.8 L484.7,1171.8 L485.9,1171.8 L487.0,1171.8 L488.2,1171.8 L489.4,1171.8 L490.5,1171.8 L491.7,1171.8 L492.8,1171.8 L494.0,1171.8 L495.2,1171.8 L496.3,1171.8 L497.5,1171.8 L498.6,1171.8 L499.8,1171.8 L500.9,1171.8 L502.1,1171.8 L503.3,1171.8 L504.4,1171.8 L505.6,1171.8 L506.7,1171.8 L507.9,1171.8 L509.1,1171.8 L510.2,1171.8 L511.4,1171.8 L512.5,1171.8 L513.7,1171.8 L514.9,1171.8 L516.0,1171.8 L517.2,1171.8 L518.3,1171.8 L519.5,1171.8 L520.7,1171.8 L521.8,1171.8 L523.0,1171.8 L524.1,1171.8 L525.3,1171.8 L526.5,1171.8 L527.6,1171.8 L528.8,1171.8 L529.9,1171.8 L531.1,1171.8 L532.3,1171.8 L533.4,1171.8 L534.6,1171.8 L535.7,1171.8 L536.9,1171.8 L538.1,1171.8 L539.2,1171.8 L540.4,1171.8 L541.5,1171.8 L542.7,1171.8 L543.9,1171.8 L545.0,1171.8 L546.2,1171.8 L547.3,1171.8 L548.5,1171.8 L549.6,1171.8 L550.8,1171.8 L552.0,1171.8 L553.1,1171.8 L554.3,1171.8 L555.4,1171.8 L556.6,1171.8 L557.8,1171.8 L558.9,1171.8 L560.1,1171.8 L561.2,1171.8 L562.4,1171.8 L563.6,1171.8 L564.7,1171.8 L565.9,1171.8 L567.0,1171.8 L568.2,1171.8 L569.4,1171.8 L570.5,1171.8 L571.7,1171.8 L572.8,1171.8 L574.0,1171.8 L575.2,1171.8 L576.3,1171.8 L577.5,1171.8 L578.6,1171.8 L579.8,1171.8 L581.0,1171.8 L582.1,1171.8 L583.3,1171.8 L584.4,1171.8 L585.6,1171.8 L586.8,1171.8 L587.9,1171.8 L589.1,1171.8 L590.2,1171.8 L591.4,1171.8 L592.6,1171.8 L593.7,1171.8 L594.9,1171.8 L596.0,1171.8 L597.2,1171.8 L598.3,1171.8 L599.5,1171.8 L600.7,1171.8 L601.8,1171.8 L603.0,1171.8 L604.1,1171.8 L605.3,1171.8 L606.5,1171.8 L607.6,1171.8 L608.8,1171.8 L609.9,1171.8 L611.1,1171.8 L612.3,1171.8 L613.4,1171.8 L614.6,1171.8 L615.7,1171.8 L616.9,1171.8 L618.1,1171.8 L619.2,1171.8 L620.4,1171.8 L621.5,1171.8 L622.7,1171.8 L623.9,1171.8 L625.0,1171.8 L626.2,1171.8 L627.3,1171.8 L628.5,1171.8 L629.7,1171.8 L630.8,1171.8 L632.0,1171.8 L633.1,1171.8 L634.3,1171.8 L635.5,1171.8 L636.6,1171.8 L637.8,1171.8 L638.9,1171.8 L640.1,1171.8 L641.2,1171.8 L642.4,1171.8 L643.6,1171.8 L644.7,1171.8 L645.9,1171.8 L647.0,1171.8 L648.2,1171.8 L649.4,1171.8 L650.5,1171.8 L651.7,1171.8 L652.8,1171.8 L654.0,1171.8 L655.2,1171.8 L656.3,1171.8 L657.5,1171.8 L658.6,1171.8 L659.8,1171.8 L661.0,1171.8 L662.1,1171.8 L663.3,1171.8 L664.4,1171.8 L665.6,1171.8 L666.8,1171.8 L667.9,1171.8 L669.1,1171.8 L670.2,1171.8 L671.4,1171.8 L672.6,1171.8 L673.7,1171.8 L674.9,1171.8 L676.0,1171.8 L677.2,1171.8 L678.4,1171.8 L679.5,1171.8 L680.7,1171.8 L681.8,1171.8 L683.0,1171.8 L684.2,1171.8 L685.3,1171.8 L686.5,1171.8 L687.6,1171.8 L688.8,1171.8 L689.9,1171.8 L691.1,1171.8 L692.3,1171.8 L693.4,1171.8 L694.6,1171.8 L695.7,1171.8 L696.9,1171.8 L698.1,1171.8 L699.2,1171.8 L700.4,1171.8 L701.5,1171.8 L702.7,1171.8 L703.9,1171.8 L705.0,1171.8 L706.2,1171.8 L707.3,1171.8 L708.5,1171.8 L709.7,1171.8 L710.8,1171.8 L712.0,1171.8 L713.1,1171.8 L714.3,1171.8 L715.5,1171.8 L716.6,1171.8 L717.8,1171.8 L718.9,1171.8 L720.1,1171.8 L721.3,1171.8 L722.4,1171.8 L723.6,1171.8 L724.7,1171.8 L725.9,1171.8 L727.1,1171.8 L728.2,1171.8 L729.4,1171.8 L730.5,1171.8 L731.7,1171.8 L732.9,1171.8 L734.0,1171.8 L735.2,1171.8 L736.3,1171.8 L737.5,1171.8 L738.6,1171.8 L739.8,1171.8 L741.0,1171.8 L742.1,1171.8 L743.3,1171.8 L744.4,1171.8 L745.6,1171.8 L746.8,1171.8 L747.9,1171.8 L749.1,1171.8 L750.2,1171.8 L751.4,1171.8 L752.6,1171.8 L753.7,1171.8 L754.9,1171.8 L756.0,1171.8 L757.2,1171.8 L758.4,1171.8 L759.5,1171.8 L760.7,1171.8 L761.8,1171.8 L763.0,1171.8 L764.2,1171.8 L765.3,1171.8 L766.5,1171.8 L767.6,1171.8 L768.8,1171.8 L770.0,1171.8 L771.1,1171.8 L772.3,1171.8 L773.4,1171.8 L774.6,1171.8 L775.8,1171.8 L776.9,1171.8 L778.1,1171.8 L779.2,1171.8 L780.4,1171.8 L781.5,1171.8 L782.7,1171.8 L783.9,1171.8 L785.0,1171.8 L786.2,1171.8 L787.3,1171.8 L788.5,1171.8 L789.7,1171.8 L790.8,1171.8 L792.0,1171.8 L793.1,1171.8 L794.3,1171.8 L795.5,1171.8 L796.6,1171.8 L797.8,1171.8 L798.9,1171.8 L800.1,1171.8 L801.3,1171.8 L802.4,1171.8 L803.6,1171.8 L804.7,1171.8 L805.9,1171.8 L807.1,1171.8 L808.2,1171.8 L809.4,1171.8 L810.5,1171.8 L811.7,1171.8 L812.9,1171.8 L814.0,1171.8 L815.2,1171.8 L816.3,1171.8 L817.5,1171.8 L818.7,1171.8 L819.8,1171.8 L821.0,1171.8 L822.1,1171.8 L823.3,1171.8 L824.5,1171.8 L825.6,1171.8 L826.8,1171.8 L827.9,1171.8 L829.1,1171.8 L830.2,1171.8 L831.4,1171.8 L832.6,1171.8 L833.7,1171.8 L834.9,1171.8 L836.0,1171.8 L837.2,1171.8 L838.4,1171.8 L839.5,1171.8 L840.7,1171.8 L841.8,1171.8 L843.0,1171.8 L844.2,1171.8 L845.3,1171.8 L846.5,1171.8 L847.6,1171.8 L848.8,1171.8 L850.0,1171.8 L851.1,1171.8 L852.3,1171.8 L853.4,1171.8 L854.6,1171.8 L855.8,1171.8 L856.9,1171.8 L858.1,1171.8 L859.2,1171.8 L860.4,1171.8 L861.6,1171.8 L862.7,1171.8 L863.9,1171.8 L865.0,1171.8 L866.2,1171.8 L867.4,1171.8 L868.5,1171.8 L869.7,1171.8 L870.8,1171.8 L872.0,1171.8 L873.1,1171.8 L874.3,1171.8 L875.5,1171.8 L876.6,1171.8 L877.8,1171.8 L878.9,1171.8 L880.1,1171.8 L881.3,1171.8 L882.4,1171.8 L883.6,1171.8 L884.7,1171.8 L885.9,1171.8 L887.1,1171.8 L888.2,1171.8 L889.4,1171.8 L890.5,1171.8 L891.7,1171.8 L892.9,1171.8 L894.0,1171.8 L895.2,1171.8 L896.3,1171.8 L897.5,1171.8 L898.7,1171.8 L899.8,1171.8 L901.0,1171.8 L902.1,1171.8 L903.3,1171.8 L904.5,1171.8 L905.6,1171.8 L906.8,1171.8 L907.9,1171.8 L909.1,1171.8 L910.3,1171.8 L911.4,1171.8 L912.6,1171.8 L913.7,1171.8 L914.9,1171.8 L916.1,1171.8 L917.2,1171.8 L918.4,1171.8 L919.5,1171.8 L920.7,1171.8 L921.8,1171.8 L923.0,1171.8 L924.2,1171.8 L925.3,1171.8 L926.5,1171.8 L927.6,1171.8 L928.8,1171.8 L930.0,1171.8 L931.1,1171.8 L932.3,1171.8 L933.4,1171.8 L934.6,1171.8 L935.8,1171.8 L936.9,1171.8 L938.1,1171.8 L939.2,1171.8 L940.4,1171.8 L941.6,1171.8 L942.7,1171.8 L943.9,1171.8 L945.0,1171.8 L946.2,1171.8 L947.4,1171.8 L948.5,1171.8 L949.7,1171.8 L950.8,1171.8 L952.0,1171.8 L953.2,1171.8 L954.3,1171.8 L955.5,1171.8 L956.6,1171.8 L957.8,1171.8 L959.0,1171.8 L960.1,1171.8 L961.3,1171.8 L962.4,1171.8 L963.6,1171.8 L964.8,1171.8 L965.9,1171.8 L967.1,1171.8 L968.2,1171.8 L969.4,1171.8 L970.5,1171.8 L971.7,1171.8 L972.9,1171.8 L974.0,1171.8 L975.2,1171.8 L976.3,1171.8 L977.5,1171.8 L978.7,1171.8 L979.8,1171.8 L981.0,1171.8 L982.1,1171.8 L983.3,1171.8 L984.5,1171.8 L985.6,1171.8 L986.8,1171.8 L987.9,1171.8 L989.1,1171.8 L990.3,1171.8 L991.4,1171.8 L992.6,1171.8 L993.7,1171.8 L994.9,1171.8 L996.1,1171.8 L997.2,1171.8 L998.4,1171.8 L999.5,1171.8 L1000.7,1171.8 L1001.9,1171.8 L1003.0,1171.8 L1004.2,1171.8 L1005.3,1171.8 L1006.5,1171.8 L1007.7,1171.8 L1008.8,1171.8 L1010.0,1171.8 L1011.1,1171.8 L1012.3,1171.8 L1013.4,1171.8 L1014.6,1171.8 L1015.8,1171.8 L1016.9,1171.8 L1018.1,1171.8 L1019.2,1171.8 L1020.4,1171.8 L1021.6,1171.8 L1022.7,1171.8 L1023.9,1171.7 L1025.0,1171.7 L1026.2,1171.7 L1027.4,1171.6 L1028.5,1171.6 L1029.7,1171.5 L1030.8,1171.4 L1032.0,1171.2 L1033.2,1171.0 L1034.3,1170.8 L1035.5,1170.5 L1036.6,1170.1 L1037.8,1169.6 L1039.0,1169.0 L1040.1,1168.3 L1041.3,1167.4 L1042.4,1166.3 L1043.6,1165.0 L1044.8,1163.4 L1045.9,1161.5 L1047.1,1159.3 L1048.2,1156.7 L1049.4,1153.7 L1050.6,1150.3 L1051.7,1146.4 L1052.9,1142.0 L1054.0,1137.1 L1055.2,1131.7 L1056.4,1125.8 L1057.5,1119.5 L1058.7,1112.6 L1059.8,1105.4 L1061.0,1097.8 L1062.1,1089.9 L1063.3,1081.8 L1064.5,1073.6 L1065.6,1065.5 L1066.8,1057.5 L1067.9,1049.7 L1069.1,1042.4 L1070.3,1035.7 L1071.4,1029.6 L1072.6,1024.2 L1073.7,1019.8 L1074.9,1016.4 L1076.1,1014.1 L1077.2,1012.8 L1078.4,1012.7 L1079.5,1013.7 L1080.7,1015.9 L1081.9,1019.1 L1083.0,1023.3 L1084.2,1028.4 L1085.3,1034.4 L1086.5,1041.0 L1087.7,1048.2 L1088.8,1055.9 L1090.0,1063.8 L1091.1,1072.0 L1092.3,1080.1 L1093.5,1088.3 L1094.6,1096.2 L1095.8,1103.9 L1096.9,1111.2 L1098.1,1118.1 L1099.3,1124.6 L1100.4,1130.6 L1101.6,1136.1 L1102.7,1141.1 L1103.9,1145.5 L1105.0,1149.5 L1106.2,1153.0 L1107.4,1156.1 L1108.5,1158.8 L1109.7,1161.1 L1110.8,1163.0 L1112.0,1164.7 L1113.2,1166.0 L1114.3,1167.2 L1115.5,1168.1 L1116.6,1168.9 L1117.8,1169.5 L1119.0,1170.0 L1120.1,1170.4 L1121.3,1170.8 L1122.4,1171.0 L1123.6,1171.2 L1124.8,1171.3 L1125.9,1171.5 L1127.1,1171.5 L1128.2,1171.6 L1129.4,1171.7 L1130.6,1171.7 L1131.7,1171.7 L1132.9,1171.8 L1134.0,1171.8 L1135.2,1171.8 L1136.4,1171.8 L1137.5,1171.8 L1138.7,1171.8 L1139.8,1171.8 L1141.0,1171.8 L1142.2,1171.8 L1143.3,1171.8 L1144.5,1171.8 L1145.6,1171.8 L1146.8,1171.8 L1148.0,1171.8 L1149.1,1171.8 L1150.3,1171.8 L1151.4,1171.8 L1152.6,1171.8 L1153.7,1171.8 L1154.9,1171.8 L1156.1,1171.8 L1157.2,1171.8 L1158.4,1171.8 L1159.5,1171.8 L1160.7,1171.8 L1161.9,1171.8 L1163.0,1171.8 L1164.2,1171.8 L1165.3,1171.8 L1166.5,1171.8 L1167.7,1171.8 L1168.8,1171.8 L1170.0,1171.8 L1171.1,1171.8 L1172.3,1171.8 L1173.5,1171.8 L1174.6,1171.8 L1175.8,1171.8 L1176.9,1171.8 L1178.1,1171.8 L1179.3,1171.8 L1180.4,1171.8 L1181.6,1171.8 L1182.7,1171.8 L1183.9,1171.8 L1185.1,1171.8 L1186.2,1171.8 L1187.4,1171.8 L1188.5,1171.8 L1189.7,1171.8 L1190.9,1171.8 L1192.0,1171.8 L1193.2,1171.8 L1194.3,1171.8 L1195.5,1171.8 L1196.7,1171.8 L1197.8,1171.8 L1199.0,1171.8 L1200.1,1171.8 L1201.3,1171.8 L1202.4,1171.8 L1203.6,1171.8 L1204.8,1171.8 L1205.9,1171.8 L1207.1,1171.8 L1208.2,1171.8 L1209.4,1171.8 L1210.6,1171.8 L1211.7,1171.8 L1212.9,1171.8 L1214.0,1171.8 L1215.2,1171.8 L1216.4,1171.8 L1217.5,1171.8 L1218.7,1171.8 L1219.8,1171.8 L1221.0,1171.8 L1222.2,1171.8 L1223.3,1171.8 L1224.5,1171.8 L1225.6,1171.8 L1226.8,1171.8 L1228.0,1171.8 L1229.1,1171.8 L1230.3,1171.8 L1231.4,1171.8 L1232.6,1171.8 L1233.8,1171.8 L1234.9,1171.8 L1236.1,1171.8 L1237.2,1171.8 L1238.4,1171.8 L1239.6,1171.8 L1240.7,1171.8 L1241.9,1171.8 L1243.0,1171.8 L1244.2,1171.8 L1245.3,1171.8 L1246.5,1171.8 L1247.7,1171.8 L1248.8,1171.8 L1250.0,1171.8 L1251.1,1171.8 L1252.3,1171.8 L1253.5,1171.8 L1254.6,1171.8 L1255.8,1171.8 L1256.9,1171.8 L1258.1,1171.8 L1259.3,1171.8 L1260.4,1171.8 L1261.6,1171.8 L1262.7,1171.8 L1263.9,1171.8 L1265.1,1171.8 L1266.2,1171.8 L1267.4,1171.8 L1268.5,1171.8 L1269.7,1171.8 L1270.9,1171.8 L1272.0,1171.8 L1273.2,1171.8 L1274.3,1171.8 L1275.5,1171.8 L1276.7,1171.8 L1277.8,1171.8 L1279.0,1171.8 L1280.1,1171.8 L1281.3,1171.8 L1282.5,1171.8 L1283.6,1171.8 L1284.8,1171.8 L1285.9,1171.8 L1287.1,1171.8 L1288.3,1171.8 L1289.4,1171.8 L1290.6,1171.8 L1291.7,1171.8 L1292.9,1171.8 L1294.0,1171.8 L1295.2,1171.8 L1296.4,1171.8 L1297.5,1171.8 L1298.7,1171.8 L1299.8,1171.8 L1301.0,1171.8 L1302.2,1171.8 L1303.3,1171.8 L1304.5,1171.8 L1305.6,1171.8 L1306.8,1171.8 L1308.0,1171.8 L1309.1,1171.8 L1310.3,1171.8 L1311.4,1171.8 L1312.6,1171.8 L1313.8,1171.8 L1314.9,1171.8 L1316.1,1171.8 L1317.2,1171.8 L1318.4,1171.8 L1319.6,1171.8 L1320.7,1171.8 L1321.9,1171.8 L1323.0,1171.8 L1324.2,1171.8 L1325.4,1171.8 L1326.5,1171.8 L1327.7,1171.8 L1328.8,1171.8 L1330.0,1171.8 L1331.2,1171.8 L1332.3,1171.8 L1333.5,1171.8 L1334.6,1171.8 L1335.8,1171.8 L1336.9,1171.8 L1338.1,1171.8 L1339.3,1171.8 L1340.4,1171.8 L1341.6,1171.8 L1342.7,1171.8 L1343.9,1171.8 L1345.1,1171.8 L1346.2,1171.8 L1347.4,1171.8 L1348.5,1171.8 L1349.7,1171.8 L1350.9,1171.8 L1352.0,1171.8 L1353.2,1171.8 L1354.3,1171.8 L1355.5,1171.8 L1356.7,1171.8 L1357.8,1171.8 L1359.0,1171.8 L1360.1,1171.8 L1361.3,1171.8 L1362.5,1171.8 L1363.6,1171.8 L1364.8,1171.8 L1365.9,1171.8 L1367.1,1171.8 L1368.3,1171.8 L1369.4,1171.8 L1370.6,1171.8 L1371.7,1171.8 L1372.9,1171.8 L1374.1,1171.8 L1375.2,1171.8 L1376.4,1171.8 L1377.5,1171.8 L1378.7,1171.8 L1379.9,1171.8 L1381.0,1171.8 L1382.2,1171.8 L1383.3,1171.8 L1384.5,1171.8 L1385.6,1171.8 L1386.8,1171.8 L1388.0,1171.8 L1389.1,1171.8 L1390.3,1171.8 L1391.4,1171.8 L1392.6,1171.8 L1393.8,1171.8 L1394.9,1171.8 L1396.1,1171.8 L1397.2,1171.8 L1398.4,1171.8 L1399.6,1171.8 L1400.7,1171.8 L1401.9,1171.8 L1403.0,1171.8 L1404.2,1171.8 L1405.4,1171.8 L1406.5,1171.8 L1407.7,1171.8 L1408.8,1171.8 L1410.0,1171.8 L1411.2,1171.8 L1412.3,1171.8 L1413.5,1171.8 L1414.6,1171.8 L1415.8,1171.8 L1417.0,1171.8 L1418.1,1171.8 L1419.3,1171.8 L1420.4,1171.8 L1421.6,1171.8 L1422.8,1171.8 L1423.9,1171.8 L1425.1,1171.8 L1426.2,1171.8 L1427.4,1171.8 L1428.5,1171.8 L1429.7,1171.8 L1430.9,1171.8 L1432.0,1171.8 L1433.2,1171.8 L1434.3,1171.8 L1435.5,1171.8 L1436.7,1171.8 L1437.8,1171.8 L1439.0,1171.8 L1440.1,1171.8 L1441.3,1171.8 L1442.5,1171.8 L1443.6,1171.8 L1444.8,1171.8 L1445.9,1171.8 L1447.1,1171.8 L1448.3,1171.8 L1449.4,1171.8 L1450.6,1171.8 L1451.7,1171.8 L1452.9,1171.8 L1454.1,1171.8 L1455.2,1171.8 L1456.4,1171.8 L1457.5,1171.8 L1458.7,1171.8 L1459.9,1171.8 L1461.0,1171.8 L1462.2,1171.8 L1463.3,1171.8 L1464.5,1171.8 L1465.7,1171.8 L1466.8,1171.8 L1468.0,1171.8 L1469.1,1171.8 L1470.3,1171.8 L1471.5,1171.8 L1472.6,1171.8 L1473.8,1171.8 L1474.9,1171.8 L1476.1,1171.8 L1477.2,1171.8 L1478.4,1171.8 L1479.6,1171.8 L1480.7,1171.8 L1481.9,1171.8 L1483.0,1171.8 L1484.2,1171.8 L1485.4,1171.8 L1486.5,1171.8 L1487.7,1171.8 L1488.8,1171.8 L1490.0,1171.8 L1491.2,1171.8 L1492.3,1171.8 L1493.5,1171.8 L1494.6,1171.8 L1495.8,1171.8 L1497.0,1171.8 L1498.1,1171.8 L1499.3,1171.8 L1500.4,1171.8 L1501.6,1171.8 L1502.8,1171.8 L1503.9,1171.8 L1505.1,1171.8 L1506.2,1171.8 L1507.4,1171.8 L1508.6,1171.8 L1509.7,1171.8 L1510.9,1171.8 L1512.0,1171.8 L1513.2,1171.8 L1514.4,1171.8 L1515.5,1171.8 L1516.7,1171.8 L1517.8,1171.8 L1519.0,1171.8 L1520.2,1171.8 L1521.3,1171.8 L1522.5,1171.8 L1523.6,1171.8 L1524.8,1171.8 L1525.9,1171.8 L1527.1,1171.8 L1528.3,1171.8 L1529.4,1171.8 L1530.6,1171.8 L1531.7,1171.8 L1532.9,1171.8 L1534.1,1171.8 L1535.2,1171.8 L1536.4,1171.8 L1537.5,1171.8 L1538.7,1171.8 L1539.9,1171.8 L1541.0,1171.8 L1542.2,1171.8 L1543.3,1171.8 L1544.5,1171.8 L1545.7,1171.8 L1546.8,1171.8 L1548.0,1171.8 L1549.1,1171.8 L1550.3,1171.8 L1551.5,1171.8 L1552.6,1171.8 L1553.8,1171.8 L1554.9,1171.8 L1556.1,1171.8 L1557.3,1171.8 L1558.4,1171.8 L1559.6,1171.8 L1560.7,1171.8 L1561.9,1171.8 L1563.1,1171.8 L1564.2,1171.8 L1565.4,1171.8 L1566.5,1171.8 L1567.7,1171.8 L1568.8,1171.8 L1570.0,1171.8 L1571.2,1171.8 L1572.3,1171.8 L1573.5,1171.8 L1574.6,1171.8 L1575.8,1171.8 L1577.0,1171.8 L1578.1,1171.8 L1579.3,1171.8 L1580.4,1171.8 L1581.6,1171.8 L1582.8,1171.8 L1583.9,1171.8 L1585.1,1171.8 L1586.2,1171.8 L1587.4,1171.8 L1588.6,1171.8 L1589.7,1171.8 L1590.9,1171.8 L1592.0,1171.8 L1593.2,1171.8 L1594.4,1171.8 L1595.5,1171.8 L1596.7,1171.8 L1597.8,1171.8 L1599.0,1171.8 L1600.2,1171.8 L1601.3,1171.8 L1602.5,1171.8 L1603.6,1171.8 L1604.8,1171.8 L1606.0,1171.8 L1607.1,1171.8 L1608.3,1171.8 L1609.4,1171.8 L1610.6,1171.8 L1611.8,1171.8 L1612.9,1171.8 L1614.1,1171.8 L1615.2,1171.8 L1616.4,1171.8 L1617.5,1171.8 L1618.7,1171.8 L1619.9,1171.8 L1621.0,1171.8 L1622.2,1171.8 L1623.3,1171.8 L1624.5,1171.8 L1625.7,1171.8 L1626.8,1171.8 L1628.0,1171.8 L1629.1,1171.8 L1630.3,1171.8 L1631.5,1171.8 L1632.6,1171.8 L1633.8,1171.8 L1634.9,1171.8 L1636.1,1171.8 L1637.3,1171.8 L1638.4,1171.8 L1639.6,1171.8 L1640.7,1171.8 L1641.9,1171.8 L1643.1,1171.8 L1644.2,1171.8 L1645.4,1171.8 L1646.5,1171.8 L1647.7,1171.8 L1648.9,1171.8 L1650.0,1171.8 L1651.2,1171.8 L1652.3,1171.8 L1653.5,1171.8 L1654.7,1171.8 L1655.8,1171.8 L1657.0,1171.8 L1658.1,1171.8 L1659.3,1171.8 L1660.5,1171.8 L1661.6,1171.8 L1662.8,1171.8 L1663.9,1171.8 L1665.1,1171.8 L1666.2,1171.8 L1667.4,1171.8 L1668.6,1171.8 L1669.7,1171.8 L1670.9,1171.8 L1672.0,1171.8 L1673.2,1171.8 L1674.4,1171.8 L1675.5,1171.8 L1676.7,1171.8 L1677.8,1171.8 L1679.0,1171.8 L1680.2,1171.8 L1681.3,1171.8 L1682.5,1171.8 L1683.6,1171.8 L1684.8,1171.8 L1686.0,1171.8 L1687.1,1171.8 L1688.3,1171.8 L1689.4,1171.8 L1690.6,1171.8 L1691.8,1171.8 L1692.9,1171.8 L1694.1,1171.8 L1695.2,1171.8 L1696.4,1171.8 L1697.6,1171.8 L1698.7,1171.8 L1699.9,1171.8 L1701.0,1171.8 L1702.2,1171.8 L1703.4,1171.8 L1704.5,1171.8 L1705.7,1171.8 L1706.8,1171.8 L1708.0,1171.8 L1709.1,1171.8 L1710.3,1171.8 L1711.5,1171.8 L1712.6,1171.8 L1713.8,1171.8 L1714.9,1171.8 L1716.1,1171.8 L1717.3,1171.8 L1718.4,1171.8 L1719.6,1171.8 L1720.7,1171.8 L1721.9,1171.8 L1723.1,1171.8 L1724.2,1171.8 L1725.4,1171.8 L1726.5,1171.8 L1727.7,1171.8 L1728.9,1171.8 L1730.0,1171.8 L1731.2,1171.8 L1732.3,1171.8 L1733.5,1171.8 L1734.7,1171.8 L1735.8,1171.8 L1737.0,1171.8 L1738.1,1171.8 L1739.3,1171.8 L1740.5,1171.8 L1741.6,1171.8 L1742.8,1171.8 L1743.9,1171.8 L1745.1,1171.8 L1746.3,1171.8 L1747.4,1171.8 L1748.6,1171.8 L1749.7,1171.8 L1750.9,1171.8 L1752.1,1171.8 L1753.2,1171.8" stroke="#00ffff"/>
<path d="M408.2,1141.3 L409.3,1141.0 L410.5,1140.8 L411.7,1140.5 L412.8,1140.3 L414.0,1140.0 L415.1,1139.8 L416.3,1139.5 L417.5,1139.3 L418.6,1139.0 L419.8,1138.8 L420.9,1138.5 L422.1,1138.3 L423.3,1138.0 L424.4,1137.7 L425.6,1137.5 L426.7,1137.2 L427.9,1136.9 L429.1,1136.7 L430.2,1136.4 L431.4,1136.1 L432.5,1135.9 L433.7,1135.6 L434.9,1135.3 L436.0,1135.0 L437.2,1134.8 L438.3,1134.5 L439.5,1134.2 L440.7,1133.9 L441.8,1133.6 L443.0,1133.4 L444.1,1133.1 L445.3,1132.8 L446.5,1132.5 L447.6,1132.2 L448.8,1131.9 L449.9,1131.6 L451.1,1131.4 L452.3,1131.1 L453.4,1130.8 L454.6,1130.5 L455.7,1130.2 L456.9,1129.9 L458.0,1129.6 L459.2,1129.3 L460.4,1129.0 L461.5,1128.7 L462.7,1128.4 L463.8,1128.1 L465.0,1127.8 L466.2,1127.5 L467.3,1127.2 L468.5,1126.9 L469.6,1126.5 L470.8,1126.2 L472.0,1125.9 L473.1,1125.6 L474.3,1125.3 L475.4,1125.0 L476.6,1124.7 L477.8,1124.4 L478.9,1124.0 L480.1,1123.7 L481.2,1123.4 L482.4,1123.1 L483.6,1122.8 L484.7,1122.4 L485.9,1122.1 L487.0,1121.8 L488.2,1121.5 L489.4,1121.1 L490.5,1120.8 L491.7,1120.5 L492.8,1120.2 L494.0,1119.8 L495.2,1119.5 L496.3,1119.2 L497.5,1118.8 L498.6,1118.5 L499.8,1118.2 L500.9,1117.8 L502.1,1117.5 L503.3,1117.2 L504.4,1116.8 L505.6,1116.5 L506.7,1116.1 L507.9,1115.8 L509.1,1115.5 L510.2,1115.1 L511.4,1114.8 L512.5,1114.4 L513.7,1114.1 L514.9,1113.7 L516.0,1113.4 L517.2,1113.1 L518.3,1112.7 L519.5,1112.4 L520.7,1112.0 L521.8,1111.7 L523.0,1111.3 L524.1,1111.0 L525.3,1110.6 L526.5,1110.3 L527.6,1109.9 L528.8,1109.6 L529.9,1109.2 L531.1,1108.9 L532.3,1108.5 L533.4,1108.1 L534.6,1107.8 L535.7,1107.4 L536.9,1107.1 L538.1,1106.7 L539.2,1106.4 L540.4,1106.0 L541.5,1105.6 L542.7,1105.3 L543.9,1104.9 L545.0,1104.6 L546.2,1104.2 L547.3,1103.8 L548.5,1103.5 L549.6,1103.1 L550.8,1102.8 L552.0,1102.4 L553.1,1102.0 L554.3,1101.7 L555.4,1101.3 L556.6,1100.9 L557.8,1100.6 L558.9,1100.2 L560.1,1099.9 L561.2,1099.5 L562.4,1099.1 L563.6,1098.8 L564.7,1098.4 L565.9,1098.0 L567.0,1097.7 L568.2,1097.3 L569.4,1096.9 L570.5,1096.6 L571.7,1096.2 L572.8,1095.8 L574.0,1095.5 L575.2,1095.1 L576.3,1094.7 L577.5,1094.3 L578.6,1094.0 L579.8,1093.6 L581.0,1093.2 L582.1,1092.9 L583.3,1092.5 L584.4,1092.1 L585.6,1091.8 L586.8,1091.4 L587.9,1091.0 L589.1,1090.6 L590.2,1090.3 L591.4,1089.9 L592.6,1089.5 L593.7,1089.2 L594.9,1088.8 L596.0,1088.4 L597.2,1088.0 L598.3,1087.7 L599.5,1087.3 L600.7,1086.9 L601.8,1086.5 L603.0,1086.2 L604.1,1085.8 L605.3,1085.4 L606.5,1085.0 L607.6,1084.7 L608.8,1084.3 L609.9,1083.9 L611.1,1083.5 L612.3,1083.2 L613.4,1082.8 L614.6,1082.4 L615.7,1082.0 L616.9,1081.6 L618.1,1081.3 L619.2,1080.9 L620.4,1080.5 L621.5,1080.1 L622.7,1079.7 L623.9,1079.3 L625.0,1078.9 L626.2,1078.5 L627.3,1078.2 L628.5,1077.8 L629.7,1077.4 L630.8,1077.0 L632.0,1076.6 L633.1,1076.2 L634.3,1075.8 L635.5,1075.4 L636.6,1075.0 L637.8,1074.6 L638.9,1074.2 L640.1,1073.7 L641.2,1073.3 L642.4,1072.9 L643.6,1072.5 L644.7,1072.1 L645.9,1071.6 L647.0,1071.2 L648.2,1070.8 L649.4,1070.3 L650.5,1069.9 L651.7,1069.5 L652.8,1069.0 L654.0,1068.6 L655.2,1068.1 L656.3,1067.6 L657.5,1067.2 L658.6,1066.7 L659.8,1066.2 L661.0,1065.7 L662.1,1065.2 L663.3,1064.8 L664.4,1064.3 L665.6,1063.7 L666.8,1063.2 L667.9,1062.7 L669.1,1062.2 L670.2,1061.6 L671.4,1061.1 L672.6,1060.5 L673.7,1060.0 L674.9,1059.4 L676.0,1058.8 L677.2,1058.2 L678.4,1057.6 L679.5,1057.0 L680.7,1056.4 L681.8,1055.8 L683.0,1055.1 L684.2,1054.5 L685.3,1053.8 L686.5,1053.1 L687.6,1052.4 L688.8,1051.7 L689.9,1051.0 L691.1,1050.3 L692.3,1049.5 L693.4,1048.7 L694.6,1047.9 L695.7,1047.1 L696.9,1046.3 L698.1,1045.5 L699.2,1044.6 L700.4,1043.7 L701.5,1042.8 L702.7,1041.9 L703.9,1041.0 L705.0,1040.0 L706.2,1039.1 L707.3,1038.0 L708.5,1037.0 L709.7,1036.0 L710.8,1034.9 L712.0,1033.8 L713.1,1032.7 L714.3,1031.5 L715.5,1030.3 L716.6,1029.1 L717.8,1027.9 L718.9,1026.6 L720.1,1025.3 L721.3,1024.0 L722.4,1022.6 L723.6,1021.2 L724.7,1019.8 L725.9,1018.3 L727.1,1016.8 L728.2,1015.3 L729.4,1013.7 L730.5,1012.1 L731.7,1010.4 L732.9,1008.7 L734.0,1007.0 L735.2,1005.2 L736.3,1003.4 L737.5,1001.5 L738.6,999.6 L739.8,997.7 L741.0,995.7 L742.1,993.7 L743.3,991.6 L744.4,989.4 L745.6,987.3 L746.8,985.0 L747.9,982.7 L749.1,980.4 L750.2,978.0 L751.4,975.6 L752.6,973.1 L753.7,970.5 L754.9,967.9 L756.0,965.2 L757.2,962.5 L758.4,959.7 L759.5,956.9 L760.7,954.0 L761.8,951.0 L763.0,948.0 L764.2,944.9 L765.3,941.8 L766.5,938.6 L767.6,935.3 L768.8,932.0 L770.0,928.5 L771.1,925.1 L772.3,921.5 L773.4,917.9 L774.6,914.3 L775.8,910.5 L776.9,906.7 L778.1,902.8 L779.2,898.9 L780.4,894.8 L781.5,890.7 L782.7,886.6 L783.9,882.3 L785.0,878.0 L786.2,873.6 L787.3,869.2 L788.5,864.6 L789.7,860.0 L790.8,855.4 L792.0,850.6 L793.1,845.8 L794.3,840.9 L795.5,835.9 L796.6,830.9 L797.8,825.8 L798.9,820.6 L800.1,815.3 L801.3,810.0 L802.4,804.6 L803.6,799.1 L804.7,793.5 L805.9,787.9 L807.1,782.2 L808.2,776.5 L809.4,770.6 L810.5,764.8 L811.7,758.8 L812.9,752.8 L814.0,746.7 L815.2,740.5 L816.3,734.3 L817.5,728.0 L818.7,721.6 L819.8,715.2 L821.0,708.8 L822.1,702.2 L823.3,695.6 L824.5,689.0 L825.6,682.3 L826.8,675.5 L827.9,668.7 L829.1,661.9 L830.2,655.0 L831.4,648.0 L832.6,641.1 L833.7,634.0 L834.9,626.9 L836.0,619.8 L837.2,612.7 L838.4,605.5 L839.5,598.3 L840.7,591.0 L841.8,583.8 L843.0,576.4 L844.2,569.1 L845.3,561.8 L846.5,554.4 L847.6,547.0 L848.8,539.6 L850.0,532.2 L851.1,524.8 L852.3,517.3 L853.4,509.9 L854.6,502.5 L855.8,495.0 L856.9,487.6 L858.1,480.2 L859.2,472.8 L860.4,465.4 L861.6,458.0 L862.7,450.6 L863.9,443.3 L865.0,435.9 L866.2,428.6 L867.4,421.4 L868.5,414.1 L869.7,406.9 L870.8,399.8 L872.0,392.6 L873.1,385.6 L874.3,378.5 L875.5,371.6 L876.6,364.6 L877.8,357.8 L878.9,351.0 L880.1,344.2 L881.3,337.5 L882.4,330.9 L883.6,324.4 L884.7,317.9 L885.9,311.5 L887.1,305.2 L888.2,299.0 L889.4,292.8 L890.5,286.8 L891.7,280.8 L892.9,275.0 L894.0,269.2 L895.2,263.5 L896.3,257.9 L897.5,252.5 L898.7,247.1 L899.8,241.9 L901.0,236.7 L902.1,231.7 L903.3,226.8 L904.5,222.0 L905.6,217.4 L906.8,212.8 L907.9,208.4 L909.1,204.1 L910.3,199.9 L911.4,195.9 L912.6,192.0 L913.7,188.3 L914.9,184.6 L916.1,181.1 L917.2,177.8 L918.4,174.6 L919.5,171.5 L920.7,168.6 L921.8,165.8 L923.0,163.2 L924.2,160.7 L925.3,158.4 L926.5,156.2 L927.6,154.2 L928.8,152.3 L930.0,150.5 L931.1,149.0 L932.3,147.5 L933.4,146.2 L934.6,145.1 L935.8,144.1 L936.9,143.3 L938.1,142.7 L939.2,142.1 L940.4,141.8 L941.6,141.6 L942.7,141.5 L943.9,141.6 L945.0,141.9 L946.2,142.3 L947.4,142.8 L948.5,143.5 L949.7,144.4 L950.8,145.4 L952.0,146.5 L953.2,147.8 L954.3,149.2 L955.5,150.8 L956.6,152.5 L957.8,154.4 L959.0,156.4 L960.1,158.5 L961.3,160.8 L962.4,163.2 L963.6,165.8 L964.8,168.5 L965.9,171.3 L967.1,174.2 L968.2,177.3 L969.4,180.5 L970.5,183.8 L971.7,187.2 L972.9,190.8 L974.0,194.5 L975.2,198.2 L976.3,202.1 L977.5,206.2 L978.7,210.3 L979.8,214.5 L981.0,218.8 L982.1,223.2 L983.3,227.8 L984.5,232.4 L985.6,237.1 L986.8,241.9 L987.9,246.8 L989.1,251.8 L990.3,256.8 L991.4,262.0 L992.6,267.2 L993.7,272.5 L994.9,277.9 L996.1,283.3 L997.2,288.8 L998.4,294.4 L999.5,300.0 L1000.7,305.7 L1001.9,311.4 L1003.0,317.2 L1004.2,323.1 L1005.3,329.0 L1006.5,335.0 L1007.7,340.9 L1008.8,347.0 L1010.0,353.1 L1011.1,359.2 L1012.3,365.3 L1013.4,371.5 L1014.6,377.7 L1015.8,383.9 L1016.9,390.2 L1018.1,396.5 L1019.2,402.8 L1020.4,409.1 L1021.6,415.4 L1022.7,421.7 L1023.9,428.1 L1025.0,434.4 L1026.2,440.7 L1027.4,447.1 L1028.5,453.4 L1029.7,459.6 L1030.8,465.9 L1032.0,472.1 L1033.2,478.3 L1034.3,484.4 L1035.5,490.4 L1036.6,496.4 L1037.8,502.2 L1039.0,507.9 L1040.1,513.5 L1041.3,518.9 L1042.4,524.0 L1043.6,529.0 L1044.8,533.7 L1045.9,538.1 L1047.1,542.1 L1048.2,545.9 L1049.4,549.2 L1050.6,552.1 L1051.7,554.6 L1052.9,556.6 L1054.0,558.1 L1055.2,559.1 L1056.4,559.6 L1057.5,559.7 L1058.7,559.3 L1059.8,558.4 L1061.0,557.2 L1062.1,555.6 L1063.3,553.7 L1064.5,551.7 L1065.6,549.6 L1066.8,547.4 L1067.9,545.4 L1069.1,543.6 L1070.3,542.1 L1071.4,541.1 L1072.6,540.7 L1073.7,540.9 L1074.9,541.8 L1076.1,543.6 L1077.2,546.3 L1078.4,550.0 L1079.5,554.6 L1080.7,560.2 L1081.9,566.8 L1083.0,574.4 L1084.2,582.8 L1085.3,592.1 L1086.5,602.2 L1087.7,612.9 L1088.8,624.1 L1090.0,635.8 L1091.1,647.9 L1092.3,660.1 L1093.5,672.5 L1094.6,684.9 L1095.8,697.1 L1096.9,709.2 L1098.1,721.0 L1099.3,732.5 L1100.4,743.5 L1101.6,754.2 L1102.7,764.3 L1103.9,774.0 L1105.0,783.1 L1106.2,791.8 L1107.4,800.0 L1108.5,807.7 L1109.7,814.9 L1110.8,821.7 L1112.0,828.1 L1113.2,834.1 L1114.3,839.8 L1115.5,845.2 L1116.6,850.4 L1117.8,855.2 L1119.0,859.9 L1120.1,864.3 L1121.3,868.6 L1122.4,872.8 L1123.6,876.8 L1124.8,880.7 L1125.9,884.5 L1127.1,888.2 L1128.2,891.8 L1129.4,895.3 L1130.6,898.8 L1131.7,902.3 L1132.9,905.7 L1134.0,909.0 L1135.2,912.3 L1136.4,915.6 L1137.5,918.8 L1138.7,922.0 L1139.8,925.2 L1141.0,928.3 L1142.2,931.4 L1143.3,934.4 L1144.5,937.5 L1145.6,940.4 L1146.8,943.4 L1148.0,946.4 L1149.1,949.3 L1150.3,952.1 L1151.4,955.0 L1152.6,957.8 L1153.7,960.6 L1154.9,963.4 L1156.1,966.1 L1157.2,968.8 L1158.4,971.5 L1159.5,974.2 L1160.7,976.8 L1161.9,979.4 L1163.0,982.0 L1164.2,984.5 L1165.3,987.0 L1166.5,989.5 L1167.7,992.0 L1168.8,994.4 L1170.0,996.9 L1171.1,999.2 L1172.3,1001.6 L1173.5,1004.0 L1174.6,1006.3 L1175.8,1008.6 L1176.9,1010.8 L1178.1,1013.0 L1179.3,1015.3 L1180.4,1017.4 L1181.6,1019.6 L1182.7,1021.7 L1183.9,1023.9 L1185.1,1025.9 L1186.2,1028.0 L1187.4,1030.0 L1188.5,1032.1 L1189.7,1034.0 L1190.9,1036.0 L1192.0,1038.0 L1193.2,1039.9 L1194.3,1041.8 L1195.5,1043.6 L1196.7,1045.5 L1197.8,1047.3 L1199.0,1049.1 L1200.1,1050.9 L1201.3,1052.6 L1202.4,1054.4 L1203.6,1056.1 L1204.8,1057.8 L1205.9,1059.5 L1207.1,1061.1 L1208.2,1062.7 L1209.4,1064.3 L1210.6,1065.9 L1211.7,1067.5 L1212.9,1069.0 L1214.0,1070.6 L1215.2,1072.1 L1216.4,1073.5 L1217.5,1075.0 L1218.7,1076.5 L1219.8,1077.9 L1221.0,1079.3 L1222.2,1080.7 L1223.3,1082.1 L1224.5,1083.4 L1225.6,1084.7 L1226.8,1086.1 L1228.0,1087.4 L1229.1,1088.6 L1230.3,1089.9 L1231.4,1091.2 L1232.6,1092.4 L1233.8,1093.6 L1234.9,1094.8 L1236.1,1096.0 L1237.2,1097.2 L1238.4,1098.4 L1239.6,1099.5 L1240.7,1100.6 L1241.9,1101.7 L1243.0,1102.9 L1244.2,1103.9 L1245.3,1105.0 L1246.5,1106.1 L1247.7,1107.1 L1248.8,1108.2 L1250.0,1109.2 L1251.1,1110.2 L1252.3,1111.2 L1253.5,1112.2 L1254.6,1113.1 L1255.8,1114.1 L1256.9,1115.1 L1258.1,1116.0 L1259.3,1116.9 L1260.4,1117.8 L1261.6,1118.7 L1262.7,1119.6 L1263.9,1120.5 L1265.1,1121.4 L1266.2,1122.2 L1267.4,1123.1 L1268.5,1123.9 L1269.7,1124.7 L1270.9,1125.6 L1272.0,1126.4 L1273.2,1127.1 L1274.3,1127.9 L1275.5,1128.7 L1276.7,1129.5 L1277.8,1130.2 L1279.0,1131.0 L1280.1,1131.7 L1281.3,1132.4 L1282.5,1133.1 L1283.6,1133.8 L1284.8,1134.5 L1285.9,1135.2 L1287.1,1135.8 L1288.3,1136.5 L1289.4,1137.1 L1290.6,1137.8 L1291.7,1138.4 L1292.9,1139.0 L1294.0,1139.6 L1295.2,1140.2 L1296.4,1140.8 L1297.5,1141.4 L1298.7,1141.9 L1299.8,1142.5 L1301.0,1143.0 L1302.2,1143.6 L1303.3,1144.1 L1304.5,1144.6 L1305.6,1145.1 L1306.8,1145.6 L1308.0,1146.1 L1309.1,1146.6 L1310.3,1147.1 L1311.4,1147.5 L1312.6,1148.0 L1313.8,1148.4 L1314.9,1148.9 L1316.1,1149.3 L1317.2,1149.7 L1318.4,1150.1 L1319.6,1150.5 L1320.7,1150.9 L1321.9,1151.3 L1323.0,1151.7 L1324.2,1152.0 L1325.4,1152.4 L1326.5,1152.7 L1327.7,1153.1 L1328.8,1153.4 L1330.0,1153.7 L1331.2,1154.1 L1332.3,1154.4 L1333.5,1154.7 L1334.6,1155.0 L1335.8,1155.3 L1336.9,1155.6 L1338.1,1155.8 L1339.3,1156.1 L1340.4,1156.4 L1341.6,1156.7 L1342.7,1156.9 L1343.9,1157.2 L1345.1,1157.4 L1346.2,1157.6 L1347.4,1157.9 L1348.5,1158.1 L1349.7,1158.3 L1350.9,1158.5 L1352.0,1158.8 L1353.2,1159.0 L1354.3,1159.2 L1355.5,1159.4 L1356.7,1159.6 L1357.8,1159.8 L1359.0,1159.9 L1360.1,1160.1 L1361.3,1160.3 L1362.5,1160.5 L1363.6,1160.7 L1364.8,1160.8 L1365.9,1161.0 L1367.1,1161.2 L1368.3,1161.3 L1369.4,1161.5 L1370.6,1161.6 L1371.7,1161.8 L1372.9,1161.9 L1374.1,1162.0 L1375.2,1162.2 L1376.4,1162.3 L1377.5,1162.5 L1378.7,1162.6 L1379.9,1162.7 L1381.0,1162.8 L1382.2,1163.0 L1383.3,1163.1 L1384.5,1163.2 L1385.6,1163.3 L1386.8,1163.4 L1388.0,1163.6 L1389.1,1163.7 L1390.3,1163.8 L1391.4,1163.9 L1392.6,1164.0 L1393.8,1164.1 L1394.9,1164.2 L1396.1,1164.3 L1397.2,1164.4 L1398.4,1164.5 L1399.6,1164.6 L1400.7,1164.7 L1401.9,1164.8 L1403.0,1164.9 L1404.2,1165.0 L1405.4,1165.1 L1406.5,1165.1 L1407.7,1165.2 L1408.8,1165.3 L1410.0,1165.4 L1411.2,1165.5 L1412.3,1165.6 L1413.5,1165.6 L1414.6,1165.7 L1415.8,1165.8 L1417.0,1165.9 L1418.1,1166.0 L1419.3,1166.0 L1420.4,1166.1 L1421.6,1166.2 L1422.8,1166.2 L1423.9,1166.3 L1425.1,1166.4 L1426.2,1166.5 L1427.4,1166.5 L1428.5,1166.6 L1429.7,1166.7 L1430.9,1166.7 L1432.0,1166.8 L1433.2,1166.8 L1434.3,1166.9 L1435.5,1167.0 L1436.7,1167.0 L1437.8,1167.1 L1439.0,1167.2 L1440.1,1167.2 L1441.3,1167.3 L1442.5,1167.3 L1443.6,1167.4 L1444.8,1167.4 L1445.9,1167.5 L1447.1,1167.6 L1448.3,1167.6 L1449.4,1167.7 L1450.6,1167.7 L1451.7,1167.8 L1452.9,1167.8 L1454.1,1167.9 L1455.2,1167.9 L1456.4,1168.0 L1457.5,1168.0 L1458.7,1168.1 L1459.9,1168.1 L1461.0,1168.2 L1462.2,1168.2 L1463.3,1168.3 L1464.5,1168.3 L1465.7,1168.3 L1466.8,1168.4 L1468.0,1168.4 L1469.1,1168.5 L1470.3,1168.5 L1471.5,1168.6 L1472.6,1168.6 L1473.8,1168.7 L1474.9,1168.7 L1476.1,1168.7 L1477.2,1168.8 L1478.4,1168.8 L1479.6,1168.9 L1480.7,1168.9 L1481.9,1168.9 L1483.0,1169.0 L1484.2,1169.0 L1485.4,1169.0 L1486.5,1169.1 L1487.7,1169.1 L1488.8,1169.1 L1490.0,1169.2 L1491.2,1169.2 L1492.3,1169.3 L1493.5,1169.3 L1494.6,1169.3 L1495.8,1169.4 L1497.0,1169.4 L1498.1,1169.4 L1499.3,1169.5 L1500.4,1169.5 L1501.6,1169.5 L1502.8,1169.5 L1503.9,1169.6 L1505.1,1169.6 L1506.2,1169.6 L1507.4,1169.7 L1508.6,1169.7 L1509.7,1169.7 L1510.9,1169.8 L1512.0,1169.8 L1513.2,1169.8 L1514.4,1169.8 L1515.5,1169.9 L1516.7,1169.9 L1517.8,1169.9 L1519.0,1169.9 L1520.2,1170.0 L1521.3,1170.0 L1522.5,1170.0 L1523.6,1170.0 L1524.8,1170.1 L1525.9,1170.1 L1527.1,1170.1 L1528.3,1170.1 L1529.4,1170.2 L1530.6,1170.2 L1531.7,1170.2 L1532.9,1170.2 L1534.1,1170.3 L1535.2,1170.3 L1536.4,1170.3 L1537.5,1170.3 L1538.7,1170.3 L1539.9,1170.4 L1541.0,1170.4 L1542.2,1170.4 L1543.3,1170.4 L1544.5,1170.4 L1545.7,1170.5 L1546.8,1170.5 L1548.0,1170.5 L1549.1,1170.5 L1550.3,1170.5 L1551.5,1170.6 L1552.6,1170.6 L1553.8,1170.6 L1554.9,1170.6 L1556.1,1170.6 L1557.3,1170.6 L1558.4,1170.7 L1559.6,1170.7 L1560.7,1170.7 L1561.9,1170.7 L1563.1,1170.7 L1564.2,1170.7 L1565.4,1170.8 L1566.5,1170.8 L1567.7,1170.8 L1568.8,1170.8 L1570.0,1170.8 L1571.2,1170.8 L1572.3,1170.8 L1573.5,1170.9 L1574.6,1170.9 L1575.8,1170.9 L1577.0,1170.9 L1578.1,1170.9 L1579.3,1170.9 L1580.4,1170.9 L1581.6,1171.0 L1582.8,1171.0 L1583.9,1171.0 L1585.1,1171.0 L1586.2,1171.0 L1587.4,1171.0 L1588.6,1171.0 L1589.7,1171.0 L1590.9,1171.0 L1592.0,1171.1 L1593.2,1171.1 L1594.4,1171.1 L1595.5,1171.1 L1596.7,1171.1 L1597.8,1171.1 L1599.0,1171.1 L1600.2,1171.1 L1601.3,1171.1 L1602.5,1171.2 L1603.6,1171.2 L1604.8,1171.2 L1606.0,1171.2 L1607.1,1171.2 L1608.3,1171.2 L1609.4,1171.2 L1610.6,1171.2 L1611.8,1171.2 L1612.9,1171.2 L1614.1,1171.2 L1615.2,1171.3 L1616.4,1171.3 L1617.5,1171.3 L1618.7,1171.3 L1619.9,1171.3 L1621.0,1171.3 L1622.2,1171.3 L1623.3,1171.3 L1624.5,1171.3 L1625.7,1171.3 L1626.8,1171.3 L1628.0,1171.3 L1629.1,1171.4 L1630.3,1171.4 L1631.5,1171.4 L1632.6,1171.4 L1633.8,1171.4 L1634.9,1171.4 L1636.1,1171.4 L1637.3,1171.4 L1638.4,1171.4 L1639.6,1171.4 L1640.7,1171.4 L1641.9,1171.4 L1643.1,1171.4 L1644.2,1171.4 L1645.4,1171.4 L1646.5,1171.4 L1647.7,1171.5 L1648.9,1171.5 L1650.0,1171.5 L1651.2,1171.5 L1652.3,1171.5 L1653.5,1171.5 L1654.7,1171.5 L1655.8,1171.5 L1657.0,1171.5 L1658.1,1171.5 L1659.3,1171.5 L1660.5,1171.5 L1661.6,1171.5 L1662.8,1171.5 L1663.9,1171.5 L1665.1,1171.5 L1666.2,1171.5 L1667.4,1171.5 L1668.6,1171.5 L1669.7,1171.5 L1670.9,1171.6 L1672.0,1171.6 L1673.2,1171.6 L1674.4,1171.6 L1675.5,1171.6 L1676.7,1171.6 L1677.8,1171.6 L1679.0,1171.6 L1680.2,1171.6 L1681.3,1171.6 L1682.5,1171.6 L1683.6,1171.6 L1684.8,1171.6 L1686.0,1171.6 L1687.1,1171.6 L1688.3,1171.6 L1689.4,1171.6 L1690.6,1171.6 L1691.8,1171.6 L1692.9,1171.6 L1694.1,1171.6 L1695.2,1171.6 L1696.4,1171.6 L1697.6,1171.6 L1698.7,1171.6 L1699.9,1171.6 L1701.0,1171.6 L1702.2,1171.6 L1703.4,1171.6 L1704.5,1171.6 L1705.7,1171.7 L1706.8,1171.7 L1708.0,1171.7 L1709.1,1171.7 L1710.3,1171.7 L1711.5,1171.7 L1712.6,1171.7 L1713.8,1171.7 L1714.9,1171.7 L1716.1,1171.7 L1717.3,1171.7 L1718.4,1171.7 L1719.6,1171.7 L1720.7,1171.7 L1721.9,1171.7 L1723.1,1171.7 L1724.2,1171.7 L1725.4,1171.7 L1726.5,1171.7 L1727.7,1171.7 L1728.9,1171.7 L1730.0,1171.7 L1731.2,1171.7 L1732.3,1171.7 L1733.5,1171.7 L1734.7,1171.7 L1735.8,1171.7 L1737.0,1171.7 L1738.1,1171.7 L1739.3,1171.7 L1740.5,1171.7 L1741.6,1171.7 L1742.8,1171.7 L1743.9,1171.7 L1745.1,1171.7 L1746.3,1171.7 L1747.4,1171.7 L1748.6,1171.7 L1749.7,1171.7 L1750.9,1171.7 L1752.1,1171.7 L1753.2,1171.7" stroke="#ff00ff"/>
</g>
<text transform="translate(224.8,1281.0) scale(1,1.025)" font-size="66.9" text-anchor="end" fill="#000">0.06</text>
<text transform="translate(224.8,1117.5) scale(1,1.025)" font-size="66.9" text-anchor="end" fill="#000">0.07</text>
<text transform="translate(224.8,954.0) scale(1,1.025)" font-size="66.9" text-anchor="end" fill="#000">0.08</text>
<text transform="translate(224.8,790.4) scale(1,1.025)" font-size="66.9" text-anchor="end" fill="#000">0.09</text>
<text transform="translate(224.8,626.9) scale(1,1.025)" font-size="66.9" text-anchor="end" fill="#000">0.10</text>
<text transform="translate(224.8,463.4) scale(1,1.025)" font-size="66.9" text-anchor="end" fill="#000">0.11</text>
<text transform="translate(224.8,299.9) scale(1,1.025)" font-size="66.9" text-anchor="end" fill="#000">0.12</text>
<text transform="translate(224.8,136.3) scale(1,1.025)" font-size="66.9" text-anchor="end" fill="#000">0.13</text>
<text transform="translate(385.5,1437.5) scale(1,1.025)" font-size="66.9" text-anchor="middle" fill="#000">10</text>
<text transform="translate(617.4,1437.5) scale(1,1.025)" font-size="66.9" text-anchor="middle" fill="#000">20</text>
<text transform="translate(849.3,1437.5) scale(1,1.025)" font-size="66.9" text-anchor="middle" fill="#000">30</text>
<text transform="translate(1081.2,1437.5) scale(1,1.025)" font-size="66.9" text-anchor="middle" fill="#000">40</text>
<text transform="translate(1313.1,1437.5) scale(1,1.025)" font-size="66.9" text-anchor="middle" fill="#000">50</text>
<text transform="translate(1545.0,1437.5) scale(1,1.025)" font-size="66.9" text-anchor="middle" fill="#000">60</text>
<text transform="translate(1776.9,1437.5) scale(1,1.025)" font-size="66.9" text-anchor="middle" fill="#000">70</text>
<text transform="translate(1081.5,1547.5) scale(1,0.990)" font-size="68.0" text-anchor="middle" fill="#000">T (°C)</text>
<text transform="translate(79,687.5) rotate(-90) scale(1.15,1)" font-size="68" text-anchor="middle" fill="#000">λ</text>
<text transform="translate(939.3,88.0) scale(1,1.000)" font-size="76.0" text-anchor="middle" fill="#00dc00" font-weight="bold">2</text>
<text transform="translate(700.5,939.5) scale(1,1.000)" font-size="76.0" text-anchor="middle" fill="#ff0000" font-weight="bold">1</text>
<text transform="translate(1109.6,549.5) scale(1,1.000)" font-size="76.0" text-anchor="middle" fill="#0000ff" font-weight="bold">3</text>
<text transform="translate(1206.1,979.3) scale(1,1.000)" font-size="76.0" text-anchor="middle" fill="#00ffff" font-weight="bold">4</text>
<rect x="1189.6" y="33.2" width="745.2" height="518.3" fill="#fff" stroke="#808080" stroke-width="3"/>
<rect x="1200.4" y="50" width="148.6" height="74.4" fill="#c0c0c0" stroke="#505050" stroke-width="2.2"/>
<text transform="translate(1368.5,110.5) scale(1.13,1)" font-size="68" fill="#202020">λ</text>
<line x1="1198.4" y1="170.0" x2="1350.2" y2="170.0" stroke="#ff0000" stroke-width="4.9" stroke-linecap="round"/>
<text transform="translate(1367.0,193.2) scale(1,1.040)" font-size="67.3" text-anchor="start" fill="#ff0000">Fit Peak 1</text>
<line x1="1198.4" y1="253.8" x2="1350.2" y2="253.8" stroke="#00ff00" stroke-width="4.9" stroke-linecap="round"/>
<text transform="translate(1367.0,276.9) scale(1,1.040)" font-size="67.3" text-anchor="start" fill="#00ff00">Fit Peak 2</text>
<line x1="1198.4" y1="337.5" x2="1350.2" y2="337.5" stroke="#0000ff" stroke-width="4.9" stroke-linecap="round"/>
<text transform="translate(1367.0,360.7) scale(1,1.040)" font-size="67.3" text-anchor="start" fill="#0000ff">Fit Peak 3</text>
<line x1="1198.4" y1="421.2" x2="1350.2" y2="421.2" stroke="#00ffff" stroke-width="4.9" stroke-linecap="round"/>
<text transform="translate(1367.0,444.4) scale(1,1.040)" font-size="67.3" text-anchor="start" fill="#00ffff">Fit Peak 4</text>
<line x1="1198.4" y1="505.0" x2="1350.2" y2="505.0" stroke="#ff00ff" stroke-width="4.9" stroke-linecap="round"/>
<text transform="translate(1367.0,528.2) scale(1,1.040)" font-size="68.2" text-anchor="start" fill="#ff00ff">Cumulative Fit Peak</text>
</svg></body></html>
